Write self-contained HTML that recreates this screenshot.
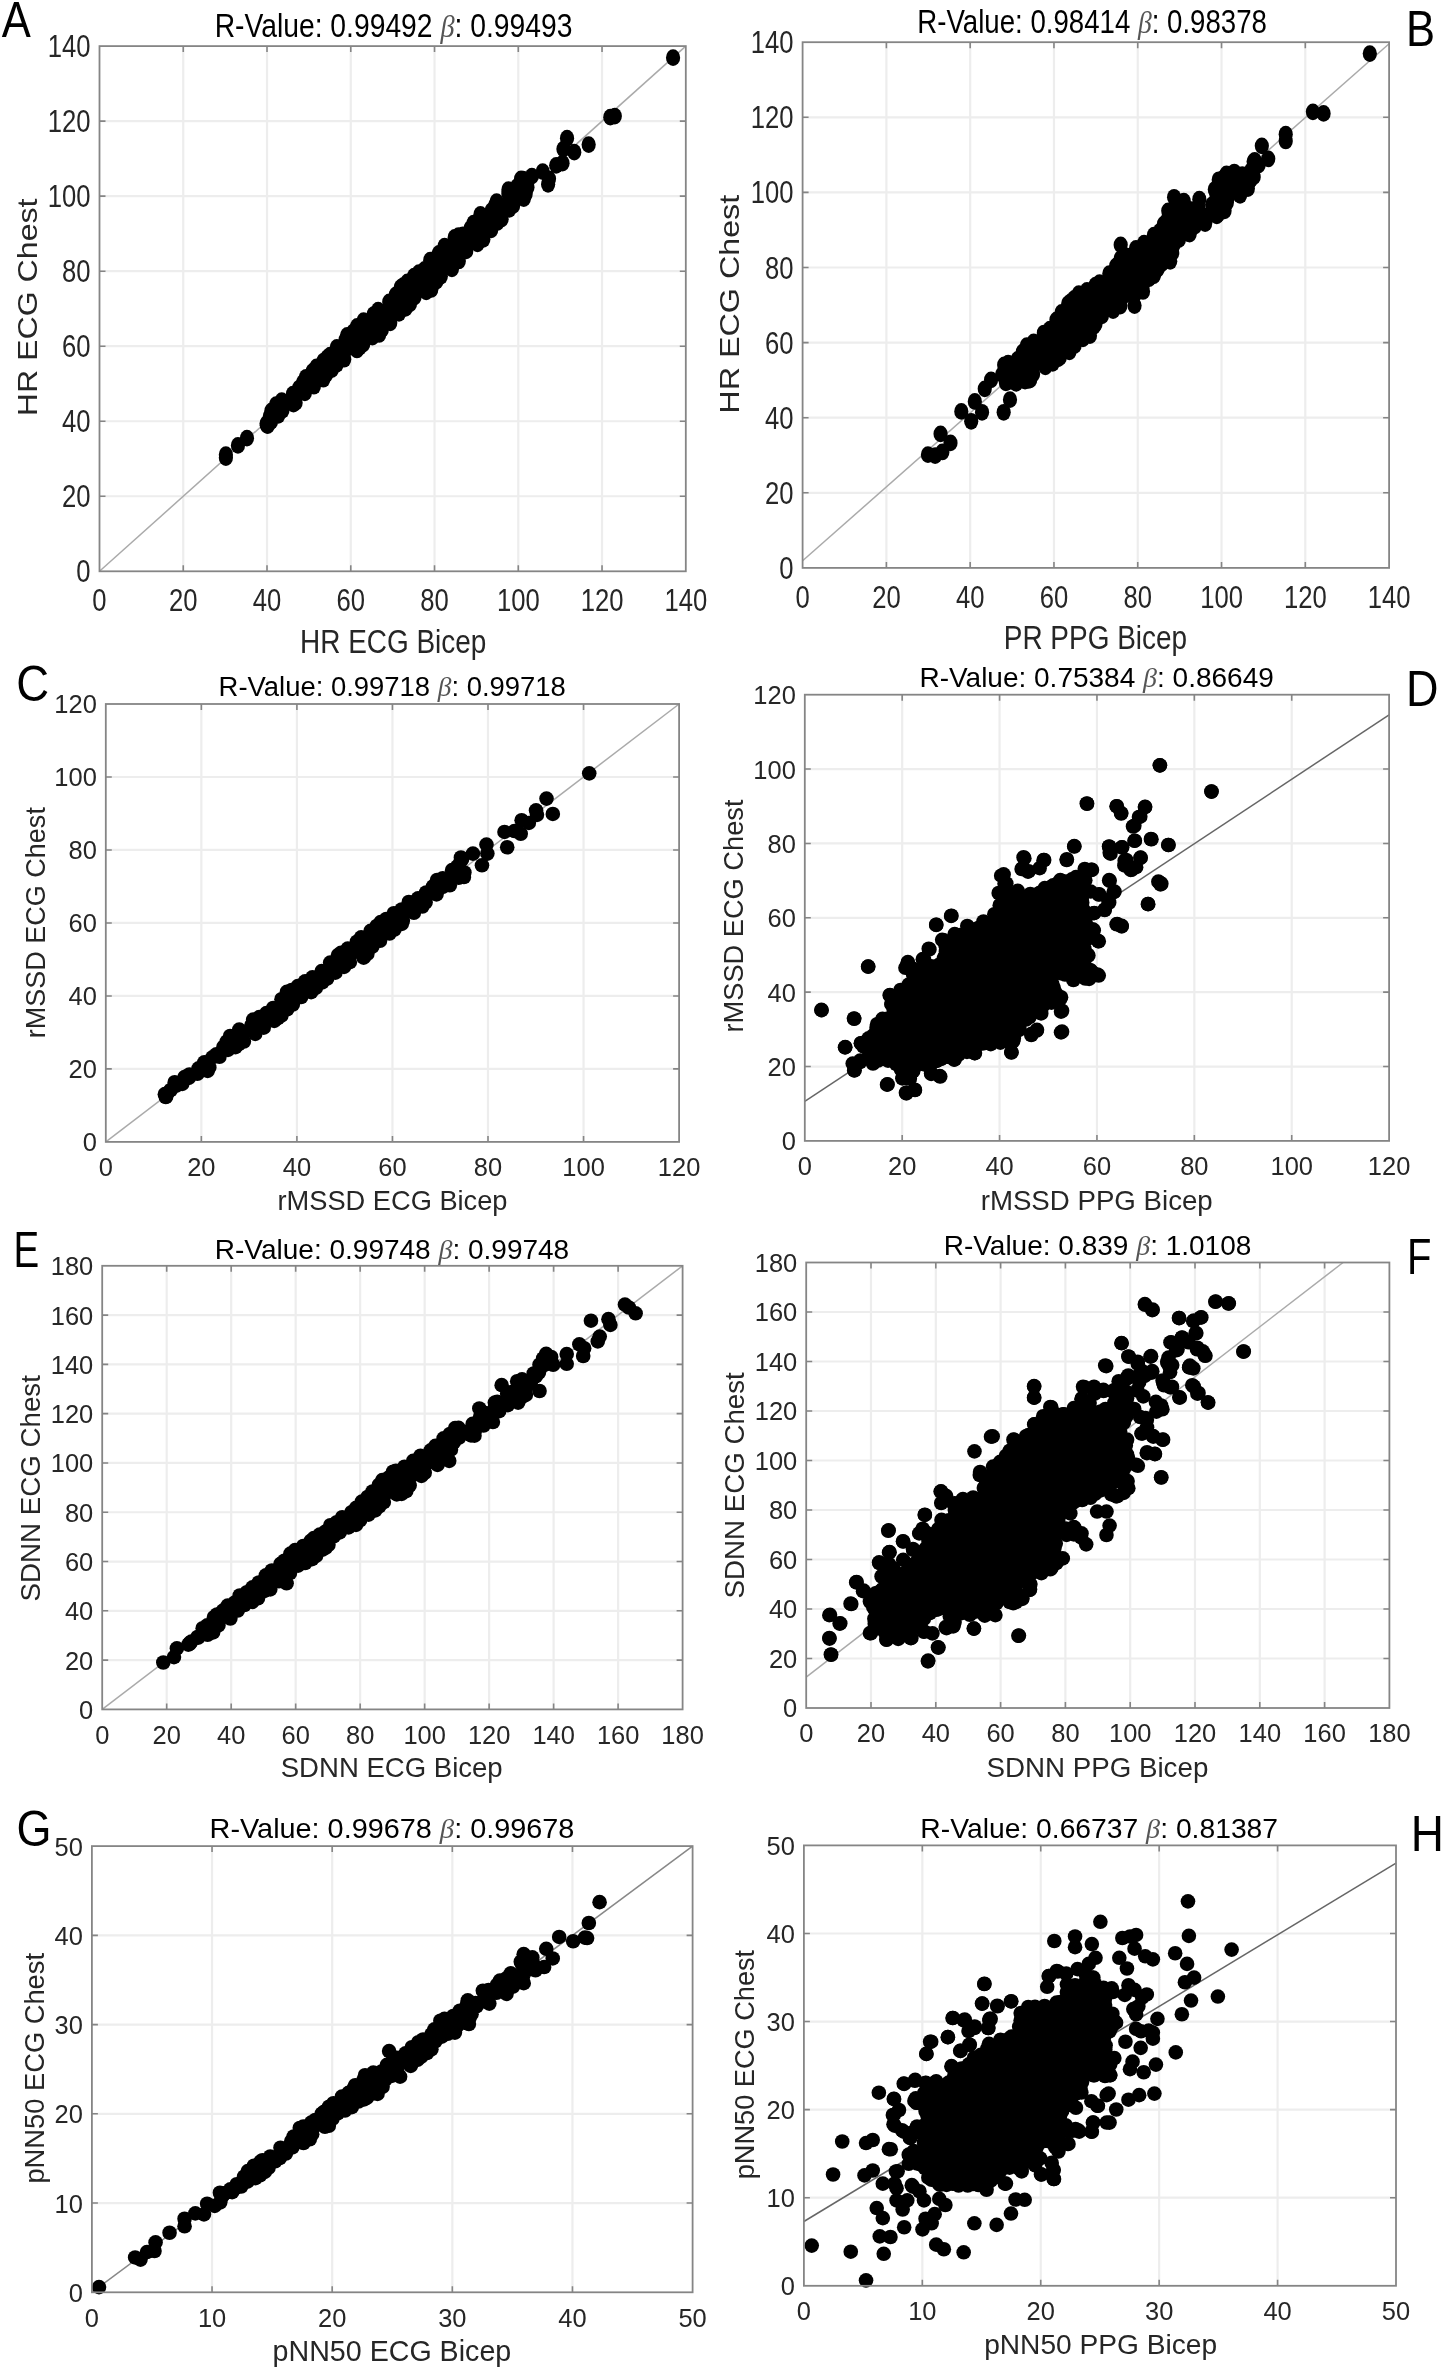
<!DOCTYPE html>
<html><head><meta charset="utf-8"><title>Scatter plots</title>
<style>html,body{margin:0;padding:0;background:#fff;width:1442px;height:2371px;overflow:hidden}
svg{display:block;font-family:"Liberation Sans",sans-serif;filter:grayscale(1)}</style></head>
<body><svg width="1442" height="2371" viewBox="0 0 1442 2371" font-family='Liberation Sans, sans-serif'><g stroke="#ededed" stroke-width="2.2"><line x1="183.26" y1="46.1" x2="183.26" y2="571.3"/><line x1="267.01" y1="46.1" x2="267.01" y2="571.3"/><line x1="350.77" y1="46.1" x2="350.77" y2="571.3"/><line x1="434.53" y1="46.1" x2="434.53" y2="571.3"/><line x1="518.29" y1="46.1" x2="518.29" y2="571.3"/><line x1="602.04" y1="46.1" x2="602.04" y2="571.3"/><line x1="99.5" y1="496.27" x2="685.8" y2="496.27"/><line x1="99.5" y1="421.24" x2="685.8" y2="421.24"/><line x1="99.5" y1="346.21" x2="685.8" y2="346.21"/><line x1="99.5" y1="271.19" x2="685.8" y2="271.19"/><line x1="99.5" y1="196.16" x2="685.8" y2="196.16"/><line x1="99.5" y1="121.13" x2="685.8" y2="121.13"/></g>
<line x1="99.5" y1="571.3" x2="685.8" y2="46.1" stroke="#aaaaaa" stroke-width="1.5"/>
<g fill="#000"><path d="M265.52 423.17L267.9 416.99L273.83 406.91L279.42 401.5L288.29 395.33L294.26 390.22L300.71 381.92L308.67 373.1L313.45 368.35L321.2 364.21L328.58 353.17L335.17 348.45L342.95 342.42L346.64 336.01L355.54 328.05L362.57 319.24L369.13 315.33L376.77 310.46L383.91 303.31L393.48 297.3L400.95 284.3L405.05 281.17L412.64 278.18L422.17 268.64L429.38 261.43L438.35 252.47L440.13 251.03L443.83 247.31L451.04 240.1L455.92 235.23L462.33 232.16L469.07 229.28L476.64 218L481.05 213.69L486.21 212.06L494.32 205.84L497.57 200.81L503.33 198.63L508.74 189.62L513.5 188.44L519.32 182.67L524.29 178.43L527.7 180.26L528.52 184.25L526.89 190.01L523.96 199.26L517.6 201.85L509.93 209.53L502.32 217.29L498.89 224.24L491.9 229.37L486.49 236.58L477.83 243.42L468.46 251.01L461.07 260.24L454.22 267.03L445.2 274.24L437.65 281.86L433.74 287.17L434.12 286.83L429.88 291.22L420.51 293.26L413.95 301.72L409.17 308.13L402.18 311.53L394.51 319.21L387.13 326.64L380.09 335.44L375.43 338.34L366.01 344.08L357.21 352.91L348.28 356.45L340.62 364.06L333.39 369.5L324.19 378.72L317.16 385.72L308.14 392.94L300.75 400.35L294.19 406.94L285.28 410.46L279.65 416.04L272.14 419.92L267.14 426.77L266.46 426.77L265.47 424.11Z"/><ellipse cx="225.87" cy="454.76" rx="7.1" ry="8.4"/><ellipse cx="225.87" cy="457.65" rx="7.1" ry="8.4"/><ellipse cx="237.95" cy="445.39" rx="7.1" ry="8.4"/><ellipse cx="246.96" cy="438.18" rx="7.1" ry="8.4"/><ellipse cx="267.34" cy="423.75" rx="7.1" ry="8.4"/><ellipse cx="673.06" cy="57.67" rx="7.1" ry="8.4"/><ellipse cx="610.31" cy="117.17" rx="7.1" ry="8.4"/><ellipse cx="614.82" cy="116.09" rx="7.1" ry="8.4"/><ellipse cx="588.67" cy="144.58" rx="7.1" ry="8.4"/><ellipse cx="574.25" cy="152.15" rx="7.1" ry="8.4"/><ellipse cx="567.04" cy="138.27" rx="7.1" ry="8.4"/><ellipse cx="563.43" cy="149.09" rx="7.1" ry="8.4"/><ellipse cx="556.22" cy="165.32" rx="7.1" ry="8.4"/><ellipse cx="562.53" cy="163.15" rx="7.1" ry="8.4"/><ellipse cx="542.69" cy="171.63" rx="7.1" ry="8.4"/><ellipse cx="548.1" cy="184.25" rx="7.1" ry="8.4"/><ellipse cx="549" cy="178.84" rx="7.1" ry="8.4"/><ellipse cx="531.88" cy="176.13" rx="7.1" ry="8.4"/><ellipse cx="521.06" cy="178.84" rx="7.1" ry="8.4"/><ellipse cx="508.43" cy="189.66" rx="7.1" ry="8.4"/><ellipse cx="523.76" cy="198.67" rx="7.1" ry="8.4"/><ellipse cx="267.22" cy="423.96" rx="7.1" ry="8.4"/><ellipse cx="269.85" cy="416.43" rx="7.1" ry="8.4"/><ellipse cx="271.43" cy="410.98" rx="7.1" ry="8.4"/><ellipse cx="276.06" cy="404.57" rx="7.1" ry="8.4"/><ellipse cx="281.73" cy="400.58" rx="7.1" ry="8.4"/><ellipse cx="292.85" cy="394.15" rx="7.1" ry="8.4"/><ellipse cx="299.22" cy="388.03" rx="7.1" ry="8.4"/><ellipse cx="303.15" cy="382.38" rx="7.1" ry="8.4"/><ellipse cx="305.99" cy="377.29" rx="7.1" ry="8.4"/><ellipse cx="312.58" cy="371.51" rx="7.1" ry="8.4"/><ellipse cx="316.46" cy="366.84" rx="7.1" ry="8.4"/><ellipse cx="323.54" cy="361.03" rx="7.1" ry="8.4"/><ellipse cx="327.23" cy="357.65" rx="7.1" ry="8.4"/><ellipse cx="330.07" cy="355.25" rx="7.1" ry="8.4"/><ellipse cx="336.84" cy="347.4" rx="7.1" ry="8.4"/><ellipse cx="345.54" cy="340.02" rx="7.1" ry="8.4"/><ellipse cx="347.16" cy="335.37" rx="7.1" ry="8.4"/><ellipse cx="353.39" cy="331.81" rx="7.1" ry="8.4"/><ellipse cx="357.05" cy="326.46" rx="7.1" ry="8.4"/><ellipse cx="363.6" cy="320.66" rx="7.1" ry="8.4"/><ellipse cx="373.63" cy="314.55" rx="7.1" ry="8.4"/><ellipse cx="378.13" cy="310.07" rx="7.1" ry="8.4"/><ellipse cx="389.24" cy="301.97" rx="7.1" ry="8.4"/><ellipse cx="395.78" cy="294.94" rx="7.1" ry="8.4"/><ellipse cx="400.75" cy="287.51" rx="7.1" ry="8.4"/><ellipse cx="403.06" cy="285.64" rx="7.1" ry="8.4"/><ellipse cx="407.37" cy="281.98" rx="7.1" ry="8.4"/><ellipse cx="414.05" cy="276.25" rx="7.1" ry="8.4"/><ellipse cx="418.83" cy="272.69" rx="7.1" ry="8.4"/><ellipse cx="424.63" cy="269.43" rx="7.1" ry="8.4"/><ellipse cx="430.24" cy="260.21" rx="7.1" ry="8.4"/><ellipse cx="436.57" cy="257.61" rx="7.1" ry="8.4"/><ellipse cx="438.84" cy="253.49" rx="7.1" ry="8.4"/><ellipse cx="443.56" cy="250.52" rx="7.1" ry="8.4"/><ellipse cx="444.59" cy="246.24" rx="7.1" ry="8.4"/><ellipse cx="454.68" cy="237.38" rx="7.1" ry="8.4"/><ellipse cx="458.45" cy="235.74" rx="7.1" ry="8.4"/><ellipse cx="462.89" cy="234.99" rx="7.1" ry="8.4"/><ellipse cx="470.59" cy="228.49" rx="7.1" ry="8.4"/><ellipse cx="473.51" cy="223.1" rx="7.1" ry="8.4"/><ellipse cx="480.77" cy="216.86" rx="7.1" ry="8.4"/><ellipse cx="480.46" cy="214.44" rx="7.1" ry="8.4"/><ellipse cx="491.6" cy="210.59" rx="7.1" ry="8.4"/><ellipse cx="495.48" cy="205.06" rx="7.1" ry="8.4"/><ellipse cx="496.62" cy="201.63" rx="7.1" ry="8.4"/><ellipse cx="508.37" cy="193.85" rx="7.1" ry="8.4"/><ellipse cx="510.19" cy="192.51" rx="7.1" ry="8.4"/><ellipse cx="517.03" cy="186.57" rx="7.1" ry="8.4"/><ellipse cx="524.15" cy="181.62" rx="7.1" ry="8.4"/><ellipse cx="523.08" cy="179.24" rx="7.1" ry="8.4"/><ellipse cx="526.84" cy="181.66" rx="7.1" ry="8.4"/><ellipse cx="527.45" cy="187.31" rx="7.1" ry="8.4"/><ellipse cx="525.66" cy="194.08" rx="7.1" ry="8.4"/><ellipse cx="521.7" cy="197.14" rx="7.1" ry="8.4"/><ellipse cx="513.13" cy="205.54" rx="7.1" ry="8.4"/><ellipse cx="509.31" cy="209.23" rx="7.1" ry="8.4"/><ellipse cx="501.6" cy="219.13" rx="7.1" ry="8.4"/><ellipse cx="497.3" cy="222.46" rx="7.1" ry="8.4"/><ellipse cx="491.21" cy="229.77" rx="7.1" ry="8.4"/><ellipse cx="483.36" cy="239.3" rx="7.1" ry="8.4"/><ellipse cx="477.52" cy="243.74" rx="7.1" ry="8.4"/><ellipse cx="466.21" cy="250.92" rx="7.1" ry="8.4"/><ellipse cx="458.81" cy="260.97" rx="7.1" ry="8.4"/><ellipse cx="451.92" cy="268.93" rx="7.1" ry="8.4"/><ellipse cx="440.83" cy="276.31" rx="7.1" ry="8.4"/><ellipse cx="436.28" cy="281.41" rx="7.1" ry="8.4"/><ellipse cx="431.21" cy="289.44" rx="7.1" ry="8.4"/><ellipse cx="431.38" cy="288.21" rx="7.1" ry="8.4"/><ellipse cx="426.23" cy="291.86" rx="7.1" ry="8.4"/><ellipse cx="414.5" cy="297.13" rx="7.1" ry="8.4"/><ellipse cx="410" cy="303.76" rx="7.1" ry="8.4"/><ellipse cx="405.5" cy="308.42" rx="7.1" ry="8.4"/><ellipse cx="399.02" cy="313.32" rx="7.1" ry="8.4"/><ellipse cx="390.26" cy="322.79" rx="7.1" ry="8.4"/><ellipse cx="381.86" cy="329.61" rx="7.1" ry="8.4"/><ellipse cx="379.15" cy="334.44" rx="7.1" ry="8.4"/><ellipse cx="372.47" cy="337.15" rx="7.1" ry="8.4"/><ellipse cx="363.23" cy="343.97" rx="7.1" ry="8.4"/><ellipse cx="359.59" cy="347.4" rx="7.1" ry="8.4"/><ellipse cx="356.96" cy="349.94" rx="7.1" ry="8.4"/><ellipse cx="344.2" cy="359.2" rx="7.1" ry="8.4"/><ellipse cx="336.77" cy="364.31" rx="7.1" ry="8.4"/><ellipse cx="331.81" cy="369.57" rx="7.1" ry="8.4"/><ellipse cx="326.05" cy="374.57" rx="7.1" ry="8.4"/><ellipse cx="323.35" cy="379.22" rx="7.1" ry="8.4"/><ellipse cx="313.9" cy="386.21" rx="7.1" ry="8.4"/><ellipse cx="304.86" cy="392.89" rx="7.1" ry="8.4"/><ellipse cx="295.6" cy="402.65" rx="7.1" ry="8.4"/><ellipse cx="293.49" cy="404.01" rx="7.1" ry="8.4"/><ellipse cx="282.47" cy="410.23" rx="7.1" ry="8.4"/><ellipse cx="278.34" cy="415.23" rx="7.1" ry="8.4"/><ellipse cx="271.03" cy="421.62" rx="7.1" ry="8.4"/><ellipse cx="266.84" cy="425.17" rx="7.1" ry="8.4"/><ellipse cx="267.75" cy="425.65" rx="7.1" ry="8.4"/><ellipse cx="266.59" cy="423.57" rx="7.1" ry="8.4"/></g>
<path d="M183.26 571.3v-6M183.26 46.1v6M267.01 571.3v-6M267.01 46.1v6M350.77 571.3v-6M350.77 46.1v6M434.53 571.3v-6M434.53 46.1v6M518.29 571.3v-6M518.29 46.1v6M602.04 571.3v-6M602.04 46.1v6M99.5 496.27h6M685.8 496.27h-6M99.5 421.24h6M685.8 421.24h-6M99.5 346.21h6M685.8 346.21h-6M99.5 271.19h6M685.8 271.19h-6M99.5 196.16h6M685.8 196.16h-6M99.5 121.13h6M685.8 121.13h-6" stroke="#858585" stroke-width="1.6" fill="none"/>
<rect x="99.5" y="46.1" width="586.3" height="525.2" fill="none" stroke="#858585" stroke-width="1.8"/>
<text transform="translate(99.5,611.3) scale(0.83,1)" text-anchor="middle" font-size="30.89" fill="#262626">0</text>
<text transform="translate(183.26,611.3) scale(0.83,1)" text-anchor="middle" font-size="30.89" fill="#262626">20</text>
<text transform="translate(267.01,611.3) scale(0.83,1)" text-anchor="middle" font-size="30.89" fill="#262626">40</text>
<text transform="translate(350.77,611.3) scale(0.83,1)" text-anchor="middle" font-size="30.89" fill="#262626">60</text>
<text transform="translate(434.53,611.3) scale(0.83,1)" text-anchor="middle" font-size="30.89" fill="#262626">80</text>
<text transform="translate(518.29,611.3) scale(0.83,1)" text-anchor="middle" font-size="30.89" fill="#262626">100</text>
<text transform="translate(602.04,611.3) scale(0.83,1)" text-anchor="middle" font-size="30.89" fill="#262626">120</text>
<text transform="translate(685.8,611.3) scale(0.83,1)" text-anchor="middle" font-size="30.89" fill="#262626">140</text>
<text transform="translate(90.5,582.36) scale(0.83,1)" text-anchor="end" font-size="30.89" fill="#262626">0</text>
<text transform="translate(90.5,507.33) scale(0.83,1)" text-anchor="end" font-size="30.89" fill="#262626">20</text>
<text transform="translate(90.5,432.3) scale(0.83,1)" text-anchor="end" font-size="30.89" fill="#262626">40</text>
<text transform="translate(90.5,357.27) scale(0.83,1)" text-anchor="end" font-size="30.89" fill="#262626">60</text>
<text transform="translate(90.5,282.24) scale(0.83,1)" text-anchor="end" font-size="30.89" fill="#262626">80</text>
<text transform="translate(90.5,207.22) scale(0.83,1)" text-anchor="end" font-size="30.89" fill="#262626">100</text>
<text transform="translate(90.5,132.19) scale(0.83,1)" text-anchor="end" font-size="30.89" fill="#262626">120</text>
<text transform="translate(90.5,57.16) scale(0.83,1)" text-anchor="end" font-size="30.89" fill="#262626">140</text>
<text transform="translate(393.5,37.4) scale(0.87,1)" text-anchor="middle" font-size="32.5" fill="#000">R-Value: 0.99492 <tspan font-family="Liberation Serif" font-style="italic" fill="#555">&#946;</tspan>: 0.99493</text>
<text transform="translate(393.2,652.6) scale(0.86,1)" text-anchor="middle" font-size="32.5" fill="#262626">HR ECG Bicep</text>
<text transform="translate(36.7,307.4) scale(0.86,1) rotate(-90)" text-anchor="middle" font-size="32.14" fill="#262626">HR ECG Chest</text>
<text transform="translate(1.7,36.6) scale(0.87,1)" text-anchor="start" font-size="50" fill="#000">A</text>
<g stroke="#ededed" stroke-width="2.2"><line x1="886.39" y1="42.2" x2="886.39" y2="567.9"/><line x1="970.17" y1="42.2" x2="970.17" y2="567.9"/><line x1="1053.96" y1="42.2" x2="1053.96" y2="567.9"/><line x1="1137.74" y1="42.2" x2="1137.74" y2="567.9"/><line x1="1221.53" y1="42.2" x2="1221.53" y2="567.9"/><line x1="1305.31" y1="42.2" x2="1305.31" y2="567.9"/><line x1="802.6" y1="492.8" x2="1389.1" y2="492.8"/><line x1="802.6" y1="417.7" x2="1389.1" y2="417.7"/><line x1="802.6" y1="342.6" x2="1389.1" y2="342.6"/><line x1="802.6" y1="267.5" x2="1389.1" y2="267.5"/><line x1="802.6" y1="192.4" x2="1389.1" y2="192.4"/><line x1="802.6" y1="117.3" x2="1389.1" y2="117.3"/></g>
<line x1="802.6" y1="560.77" x2="1389.1" y2="43.7" stroke="#aaaaaa" stroke-width="1.5"/>
<g fill="#000"><path d="M1001.45 366.85L1005.33 362.22L1013.7 359.09L1020.44 354.25L1025.82 345.28L1032.38 340.58L1039.84 334.93L1046.8 327.96L1054.67 323.64L1060.41 312.3L1065.82 306.89L1070.7 296.84L1078.47 294.26L1089.97 288.39L1097.54 280.84L1104.75 275.43L1112.17 267.99L1119.66 260.42L1122.51 255.45L1131.61 250.15L1141.32 244.32L1151.68 237.92L1161.95 225.55L1169.64 214.02L1175.53 207.84L1188.02 208.13L1196.95 206.18L1210.1 208.61L1214.93 189.44L1221.92 179.27L1228.09 174.78L1238.86 173.13L1252.17 170.41L1257.82 160.83L1255.29 161.01L1253.44 170.82L1249.95 181.28L1243.73 189.08L1231.26 191.78L1224.77 208.33L1218.61 214.24L1209.21 215.99L1196.47 224.6L1188.54 234.49L1176.61 244.58L1170.53 256.62L1161.07 267.88L1153.42 277.43L1145.99 284.8L1132.09 296.62L1134.7 297.31L1126.33 303.76L1117.94 310.49L1107.25 314.01L1098.58 320.83L1092.94 332.04L1086.71 339.78L1077.69 343.39L1070.33 352.56L1064.96 354.31L1059.51 361.57L1053.57 364.29L1046.36 366.09L1037.46 371.07L1030.42 383.47L1026.22 383.8L1018.48 382.03L1011.79 385.6L1003.99 383.47L1001.57 375.39Z"/><ellipse cx="927.95" cy="454.65" rx="7.1" ry="8.4"/><ellipse cx="935.16" cy="455.55" rx="7.1" ry="8.4"/><ellipse cx="942.37" cy="451.95" rx="7.1" ry="8.4"/><ellipse cx="940.57" cy="433.92" rx="7.1" ry="8.4"/><ellipse cx="950.49" cy="442.93" rx="7.1" ry="8.4"/><ellipse cx="961.31" cy="411.38" rx="7.1" ry="8.4"/><ellipse cx="971.22" cy="421.29" rx="7.1" ry="8.4"/><ellipse cx="974.83" cy="401.46" rx="7.1" ry="8.4"/><ellipse cx="982.04" cy="412.28" rx="7.1" ry="8.4"/><ellipse cx="984.75" cy="388.84" rx="7.1" ry="8.4"/><ellipse cx="991.06" cy="379.82" rx="7.1" ry="8.4"/><ellipse cx="1003.68" cy="412.28" rx="7.1" ry="8.4"/><ellipse cx="1009.99" cy="399.66" rx="7.1" ry="8.4"/><ellipse cx="1369.81" cy="53.59" rx="7.1" ry="8.4"/><ellipse cx="1312.91" cy="111.84" rx="7.1" ry="8.4"/><ellipse cx="1323.59" cy="113.4" rx="7.1" ry="8.4"/><ellipse cx="1285.73" cy="134.17" rx="7.1" ry="8.4"/><ellipse cx="1285.73" cy="140.97" rx="7.1" ry="8.4"/><ellipse cx="1261.84" cy="145.83" rx="7.1" ry="8.4"/><ellipse cx="1268.25" cy="158.83" rx="7.1" ry="8.4"/><ellipse cx="1254.66" cy="160.39" rx="7.1" ry="8.4"/><ellipse cx="1253.69" cy="176.89" rx="7.1" ry="8.4"/><ellipse cx="1247.86" cy="188.54" rx="7.1" ry="8.4"/><ellipse cx="1240.1" cy="195.34" rx="7.1" ry="8.4"/><ellipse cx="1234.27" cy="172.04" rx="7.1" ry="8.4"/><ellipse cx="1226.5" cy="173.98" rx="7.1" ry="8.4"/><ellipse cx="1218.74" cy="179.81" rx="7.1" ry="8.4"/><ellipse cx="1214.85" cy="189.51" rx="7.1" ry="8.4"/><ellipse cx="1224.56" cy="210.87" rx="7.1" ry="8.4"/><ellipse cx="1216.8" cy="215.73" rx="7.1" ry="8.4"/><ellipse cx="1199.32" cy="199.22" rx="7.1" ry="8.4"/><ellipse cx="1205.15" cy="223.5" rx="7.1" ry="8.4"/><ellipse cx="1189.61" cy="234.17" rx="7.1" ry="8.4"/><ellipse cx="1174.08" cy="197.28" rx="7.1" ry="8.4"/><ellipse cx="1183.79" cy="201.17" rx="7.1" ry="8.4"/><ellipse cx="1168.25" cy="210.87" rx="7.1" ry="8.4"/><ellipse cx="1120.68" cy="244.85" rx="7.1" ry="8.4"/><ellipse cx="1143.01" cy="291.46" rx="7.1" ry="8.4"/><ellipse cx="1170.19" cy="261.36" rx="7.1" ry="8.4"/><ellipse cx="1153.69" cy="275.92" rx="7.1" ry="8.4"/><ellipse cx="1004.17" cy="364.93" rx="7.1" ry="8.4"/><ellipse cx="1008.13" cy="363.08" rx="7.1" ry="8.4"/><ellipse cx="1017.64" cy="359.47" rx="7.1" ry="8.4"/><ellipse cx="1022.8" cy="351.88" rx="7.1" ry="8.4"/><ellipse cx="1026.79" cy="345.7" rx="7.1" ry="8.4"/><ellipse cx="1033.67" cy="341.89" rx="7.1" ry="8.4"/><ellipse cx="1043.84" cy="333.03" rx="7.1" ry="8.4"/><ellipse cx="1049.85" cy="329.13" rx="7.1" ry="8.4"/><ellipse cx="1056.44" cy="319.85" rx="7.1" ry="8.4"/><ellipse cx="1061.53" cy="315.42" rx="7.1" ry="8.4"/><ellipse cx="1061.63" cy="312.51" rx="7.1" ry="8.4"/><ellipse cx="1068.2" cy="303.72" rx="7.1" ry="8.4"/><ellipse cx="1070.65" cy="301.72" rx="7.1" ry="8.4"/><ellipse cx="1074.21" cy="298.5" rx="7.1" ry="8.4"/><ellipse cx="1078.81" cy="293.7" rx="7.1" ry="8.4"/><ellipse cx="1086.97" cy="290.5" rx="7.1" ry="8.4"/><ellipse cx="1095.52" cy="285.08" rx="7.1" ry="8.4"/><ellipse cx="1099.55" cy="282.62" rx="7.1" ry="8.4"/><ellipse cx="1109.31" cy="273.72" rx="7.1" ry="8.4"/><ellipse cx="1116.18" cy="265.91" rx="7.1" ry="8.4"/><ellipse cx="1120.77" cy="258.45" rx="7.1" ry="8.4"/><ellipse cx="1126.28" cy="255.89" rx="7.1" ry="8.4"/><ellipse cx="1136" cy="248.44" rx="7.1" ry="8.4"/><ellipse cx="1144.07" cy="243.21" rx="7.1" ry="8.4"/><ellipse cx="1153.93" cy="235.11" rx="7.1" ry="8.4"/><ellipse cx="1160" cy="231.2" rx="7.1" ry="8.4"/><ellipse cx="1164" cy="224.02" rx="7.1" ry="8.4"/><ellipse cx="1168.39" cy="217.89" rx="7.1" ry="8.4"/><ellipse cx="1169.65" cy="214.63" rx="7.1" ry="8.4"/><ellipse cx="1176.2" cy="210.9" rx="7.1" ry="8.4"/><ellipse cx="1184.27" cy="209.04" rx="7.1" ry="8.4"/><ellipse cx="1191.21" cy="209.6" rx="7.1" ry="8.4"/><ellipse cx="1198.31" cy="206.72" rx="7.1" ry="8.4"/><ellipse cx="1212.15" cy="204.61" rx="7.1" ry="8.4"/><ellipse cx="1216.27" cy="193.62" rx="7.1" ry="8.4"/><ellipse cx="1218.14" cy="188.32" rx="7.1" ry="8.4"/><ellipse cx="1222.37" cy="183.12" rx="7.1" ry="8.4"/><ellipse cx="1223.77" cy="177.68" rx="7.1" ry="8.4"/><ellipse cx="1230.56" cy="175.2" rx="7.1" ry="8.4"/><ellipse cx="1242.25" cy="174.61" rx="7.1" ry="8.4"/><ellipse cx="1258.57" cy="165.13" rx="7.1" ry="8.4"/><ellipse cx="1254.53" cy="162.77" rx="7.1" ry="8.4"/><ellipse cx="1253.64" cy="161.62" rx="7.1" ry="8.4"/><ellipse cx="1251.06" cy="170.74" rx="7.1" ry="8.4"/><ellipse cx="1250.6" cy="179.45" rx="7.1" ry="8.4"/><ellipse cx="1249.82" cy="180.72" rx="7.1" ry="8.4"/><ellipse cx="1244.57" cy="183.97" rx="7.1" ry="8.4"/><ellipse cx="1238.41" cy="189.54" rx="7.1" ry="8.4"/><ellipse cx="1228.31" cy="196.59" rx="7.1" ry="8.4"/><ellipse cx="1226.87" cy="202.52" rx="7.1" ry="8.4"/><ellipse cx="1222.41" cy="209.87" rx="7.1" ry="8.4"/><ellipse cx="1218.4" cy="214.09" rx="7.1" ry="8.4"/><ellipse cx="1206.91" cy="217.6" rx="7.1" ry="8.4"/><ellipse cx="1200.28" cy="220.09" rx="7.1" ry="8.4"/><ellipse cx="1195.02" cy="226.1" rx="7.1" ry="8.4"/><ellipse cx="1189.62" cy="232.34" rx="7.1" ry="8.4"/><ellipse cx="1186.96" cy="233.21" rx="7.1" ry="8.4"/><ellipse cx="1178.89" cy="239.58" rx="7.1" ry="8.4"/><ellipse cx="1173.47" cy="245.14" rx="7.1" ry="8.4"/><ellipse cx="1172.21" cy="252.86" rx="7.1" ry="8.4"/><ellipse cx="1167.95" cy="256.2" rx="7.1" ry="8.4"/><ellipse cx="1161.61" cy="263.78" rx="7.1" ry="8.4"/><ellipse cx="1157.64" cy="269.04" rx="7.1" ry="8.4"/><ellipse cx="1155.41" cy="271.48" rx="7.1" ry="8.4"/><ellipse cx="1148.85" cy="278.69" rx="7.1" ry="8.4"/><ellipse cx="1142.5" cy="286.37" rx="7.1" ry="8.4"/><ellipse cx="1137.58" cy="291.59" rx="7.1" ry="8.4"/><ellipse cx="1134.54" cy="305.59" rx="7.1" ry="8.4"/><ellipse cx="1133.9" cy="296.15" rx="7.1" ry="8.4"/><ellipse cx="1120.33" cy="306" rx="7.1" ry="8.4"/><ellipse cx="1113.1" cy="310.49" rx="7.1" ry="8.4"/><ellipse cx="1101.92" cy="315.85" rx="7.1" ry="8.4"/><ellipse cx="1095.47" cy="323.97" rx="7.1" ry="8.4"/><ellipse cx="1093.67" cy="326.64" rx="7.1" ry="8.4"/><ellipse cx="1089.95" cy="335.67" rx="7.1" ry="8.4"/><ellipse cx="1082.9" cy="338.88" rx="7.1" ry="8.4"/><ellipse cx="1074.6" cy="345.58" rx="7.1" ry="8.4"/><ellipse cx="1069.43" cy="351.73" rx="7.1" ry="8.4"/><ellipse cx="1059.72" cy="357.63" rx="7.1" ry="8.4"/><ellipse cx="1057.99" cy="358.93" rx="7.1" ry="8.4"/><ellipse cx="1052.7" cy="363.36" rx="7.1" ry="8.4"/><ellipse cx="1045.4" cy="366.78" rx="7.1" ry="8.4"/><ellipse cx="1033.08" cy="374.11" rx="7.1" ry="8.4"/><ellipse cx="1030.2" cy="379.76" rx="7.1" ry="8.4"/><ellipse cx="1028.73" cy="380.32" rx="7.1" ry="8.4"/><ellipse cx="1025.04" cy="381.1" rx="7.1" ry="8.4"/><ellipse cx="1016.13" cy="383.39" rx="7.1" ry="8.4"/><ellipse cx="1008.83" cy="381.58" rx="7.1" ry="8.4"/><ellipse cx="1005.91" cy="382.82" rx="7.1" ry="8.4"/><ellipse cx="1002.1" cy="374.58" rx="7.1" ry="8.4"/></g>
<path d="M886.39 567.9v-6M886.39 42.2v6M970.17 567.9v-6M970.17 42.2v6M1053.96 567.9v-6M1053.96 42.2v6M1137.74 567.9v-6M1137.74 42.2v6M1221.53 567.9v-6M1221.53 42.2v6M1305.31 567.9v-6M1305.31 42.2v6M802.6 492.8h6M1389.1 492.8h-6M802.6 417.7h6M1389.1 417.7h-6M802.6 342.6h6M1389.1 342.6h-6M802.6 267.5h6M1389.1 267.5h-6M802.6 192.4h6M1389.1 192.4h-6M802.6 117.3h6M1389.1 117.3h-6" stroke="#858585" stroke-width="1.6" fill="none"/>
<rect x="802.6" y="42.2" width="586.5" height="525.7" fill="none" stroke="#858585" stroke-width="1.8"/>
<text transform="translate(802.6,607.7) scale(0.83,1)" text-anchor="middle" font-size="30.89" fill="#262626">0</text>
<text transform="translate(886.39,607.7) scale(0.83,1)" text-anchor="middle" font-size="30.89" fill="#262626">20</text>
<text transform="translate(970.17,607.7) scale(0.83,1)" text-anchor="middle" font-size="30.89" fill="#262626">40</text>
<text transform="translate(1053.96,607.7) scale(0.83,1)" text-anchor="middle" font-size="30.89" fill="#262626">60</text>
<text transform="translate(1137.74,607.7) scale(0.83,1)" text-anchor="middle" font-size="30.89" fill="#262626">80</text>
<text transform="translate(1221.53,607.7) scale(0.83,1)" text-anchor="middle" font-size="30.89" fill="#262626">100</text>
<text transform="translate(1305.31,607.7) scale(0.83,1)" text-anchor="middle" font-size="30.89" fill="#262626">120</text>
<text transform="translate(1389.1,607.7) scale(0.83,1)" text-anchor="middle" font-size="30.89" fill="#262626">140</text>
<text transform="translate(793.6,578.96) scale(0.83,1)" text-anchor="end" font-size="30.89" fill="#262626">0</text>
<text transform="translate(793.6,503.86) scale(0.83,1)" text-anchor="end" font-size="30.89" fill="#262626">20</text>
<text transform="translate(793.6,428.76) scale(0.83,1)" text-anchor="end" font-size="30.89" fill="#262626">40</text>
<text transform="translate(793.6,353.66) scale(0.83,1)" text-anchor="end" font-size="30.89" fill="#262626">60</text>
<text transform="translate(793.6,278.56) scale(0.83,1)" text-anchor="end" font-size="30.89" fill="#262626">80</text>
<text transform="translate(793.6,203.46) scale(0.83,1)" text-anchor="end" font-size="30.89" fill="#262626">100</text>
<text transform="translate(793.6,128.36) scale(0.83,1)" text-anchor="end" font-size="30.89" fill="#262626">120</text>
<text transform="translate(793.6,53.26) scale(0.83,1)" text-anchor="end" font-size="30.89" fill="#262626">140</text>
<text transform="translate(1092.1,33) scale(0.85,1)" text-anchor="middle" font-size="32.5" fill="#000">R-Value: 0.98414 <tspan font-family="Liberation Serif" font-style="italic" fill="#555">&#946;</tspan>: 0.98378</text>
<text transform="translate(1095.4,648.7) scale(0.86,1)" text-anchor="middle" font-size="32.5" fill="#262626">PR PPG Bicep</text>
<text transform="translate(739.3,304.2) scale(0.86,1) rotate(-90)" text-anchor="middle" font-size="32.3" fill="#262626">HR ECG Chest</text>
<text transform="translate(1406,46) scale(0.87,1)" text-anchor="start" font-size="50" fill="#000">B</text>
<g stroke="#ededed" stroke-width="2.2"><line x1="201.35" y1="704" x2="201.35" y2="1141.9"/><line x1="296.9" y1="704" x2="296.9" y2="1141.9"/><line x1="392.45" y1="704" x2="392.45" y2="1141.9"/><line x1="488" y1="704" x2="488" y2="1141.9"/><line x1="583.55" y1="704" x2="583.55" y2="1141.9"/><line x1="105.8" y1="1068.92" x2="679.1" y2="1068.92"/><line x1="105.8" y1="995.93" x2="679.1" y2="995.93"/><line x1="105.8" y1="922.95" x2="679.1" y2="922.95"/><line x1="105.8" y1="849.97" x2="679.1" y2="849.97"/><line x1="105.8" y1="776.98" x2="679.1" y2="776.98"/></g>
<line x1="105.8" y1="1141.9" x2="679.1" y2="704" stroke="#aaaaaa" stroke-width="1.5"/>
<g fill="#000"><path d="M162.8 1093.34L169.33 1090.62L174.73 1081.6L181.02 1078.7L186.43 1075.1L194.36 1070.98L201.57 1061.97L208.47 1058.61L221.75 1047.21L228.99 1036.36L236.7 1030.13L246.19 1028.06L253.71 1018.82L264.3 1013.58L271.89 1006.07L279.31 1000.46L288.16 989.8L296.35 984.98L307.32 979.49L314.97 973.78L324.39 966.21L331.6 957.19L339.87 950.58L350.85 945.06L358.18 937.76L365.2 934.3L374.71 926.7L383.71 917.7L390.14 912.84L399.36 909.12L406.45 902.56L415.76 900.58L421.95 892.75L428.95 887.54L436.01 880.46L446.67 873.37L456.02 865.88L462.49 859.2L462.37 858.2L465.02 866.94L465.42 875.08L459.58 877.08L454.09 882.55L445.01 888L437.6 895.38L430.65 900.58L423.37 906.03L414.62 913.06L406.62 917.33L399.23 929.46L390.99 934.22L383.78 939.63L374.24 945.44L363.8 957.76L355.73 959.04L345.65 965.06L338.03 972.63L331.29 979.44L324.19 982.96L313.31 992.02L304.36 997.39L295.28 1004.64L284.09 1012.16L275.09 1022.96L266.58 1027.98L259.83 1033.12L248.72 1036.89L241.25 1044.27L230.43 1049.68L222.82 1057.2L213.8 1064.41L207.18 1071.19L200.33 1072.79L192.95 1078.28L183.74 1082.01L177.8 1087.8L170.81 1093.03L165.65 1097.61L163.56 1095.91Z"/><circle cx="589.24" cy="773.36" r="7.3"/><circle cx="546.51" cy="798.6" r="7.3"/><circle cx="552.82" cy="813.93" r="7.3"/><circle cx="536.05" cy="810.32" r="7.3"/><circle cx="536.95" cy="814.83" r="7.3"/><circle cx="521.63" cy="820.24" r="7.3"/><circle cx="528.84" cy="822.94" r="7.3"/><circle cx="520.72" cy="833.76" r="7.3"/><circle cx="514.41" cy="831.06" r="7.3"/><circle cx="504.5" cy="831.96" r="7.3"/><circle cx="507.2" cy="847.28" r="7.3"/><circle cx="486.47" cy="844.58" r="7.3"/><circle cx="487.37" cy="853.6" r="7.3"/><circle cx="472.94" cy="853.6" r="7.3"/><circle cx="481.96" cy="865.32" r="7.3"/><circle cx="462.12" cy="859" r="7.3"/><circle cx="463.93" cy="877.04" r="7.3"/><circle cx="164.87" cy="1094.13" r="7.3"/><circle cx="170.65" cy="1090" r="7.3"/><circle cx="174.72" cy="1082.24" r="7.3"/><circle cx="184.54" cy="1077.14" r="7.3"/><circle cx="189.38" cy="1074.45" r="7.3"/><circle cx="198.62" cy="1068.37" r="7.3"/><circle cx="204.29" cy="1062.32" r="7.3"/><circle cx="212.41" cy="1057.33" r="7.3"/><circle cx="216.36" cy="1054.38" r="7.3"/><circle cx="223.44" cy="1046.99" r="7.3"/><circle cx="226.68" cy="1041.58" r="7.3"/><circle cx="230.15" cy="1035.98" r="7.3"/><circle cx="239.23" cy="1029.6" r="7.3"/><circle cx="251.46" cy="1025.04" r="7.3"/><circle cx="253.2" cy="1019.55" r="7.3"/><circle cx="259.33" cy="1017.16" r="7.3"/><circle cx="266.44" cy="1013.08" r="7.3"/><circle cx="273.18" cy="1008.01" r="7.3"/><circle cx="281.48" cy="999.19" r="7.3"/><circle cx="286.89" cy="991.91" r="7.3"/><circle cx="291.66" cy="989.99" r="7.3"/><circle cx="297.82" cy="986.04" r="7.3"/><circle cx="305.08" cy="981.41" r="7.3"/><circle cx="312.41" cy="977.34" r="7.3"/><circle cx="321.7" cy="971.07" r="7.3"/><circle cx="330.17" cy="962.54" r="7.3"/><circle cx="338.01" cy="955.12" r="7.3"/><circle cx="340.93" cy="952.89" r="7.3"/><circle cx="347.74" cy="948.61" r="7.3"/><circle cx="356.85" cy="941.77" r="7.3"/><circle cx="361.14" cy="937.38" r="7.3"/><circle cx="370.64" cy="930.92" r="7.3"/><circle cx="376.69" cy="926.01" r="7.3"/><circle cx="380.65" cy="922.14" r="7.3"/><circle cx="386.29" cy="918.97" r="7.3"/><circle cx="393.87" cy="913.19" r="7.3"/><circle cx="401.64" cy="909.44" r="7.3"/><circle cx="408.82" cy="902" r="7.3"/><circle cx="418.03" cy="898.39" r="7.3"/><circle cx="426.14" cy="892.47" r="7.3"/><circle cx="433.05" cy="886.31" r="7.3"/><circle cx="437.12" cy="879.96" r="7.3"/><circle cx="442.73" cy="878.21" r="7.3"/><circle cx="452.09" cy="870.16" r="7.3"/><circle cx="457.11" cy="866.57" r="7.3"/><circle cx="460.74" cy="860.86" r="7.3"/><circle cx="460.96" cy="857.5" r="7.3"/><circle cx="464.38" cy="872.49" r="7.3"/><circle cx="463.42" cy="874.09" r="7.3"/><circle cx="458.61" cy="877.79" r="7.3"/><circle cx="449.84" cy="885.23" r="7.3"/><circle cx="442.85" cy="886.88" r="7.3"/><circle cx="436.51" cy="894.45" r="7.3"/><circle cx="425.58" cy="902.44" r="7.3"/><circle cx="422.36" cy="906.51" r="7.3"/><circle cx="413.89" cy="912.74" r="7.3"/><circle cx="402.84" cy="920.76" r="7.3"/><circle cx="401.71" cy="923.95" r="7.3"/><circle cx="394.41" cy="929.55" r="7.3"/><circle cx="389.5" cy="933.57" r="7.3"/><circle cx="379.99" cy="940.73" r="7.3"/><circle cx="372.4" cy="946.61" r="7.3"/><circle cx="367.38" cy="953.74" r="7.3"/><circle cx="363.63" cy="957.68" r="7.3"/><circle cx="349.83" cy="962.18" r="7.3"/><circle cx="343.99" cy="966.95" r="7.3"/><circle cx="335.4" cy="972.71" r="7.3"/><circle cx="327.19" cy="978.57" r="7.3"/><circle cx="322.3" cy="982.4" r="7.3"/><circle cx="315.86" cy="987.76" r="7.3"/><circle cx="311.12" cy="992.21" r="7.3"/><circle cx="301.11" cy="997.02" r="7.3"/><circle cx="292.79" cy="1004.57" r="7.3"/><circle cx="287.2" cy="1009.29" r="7.3"/><circle cx="281.39" cy="1015.49" r="7.3"/><circle cx="277.88" cy="1018.15" r="7.3"/><circle cx="274.25" cy="1020.83" r="7.3"/><circle cx="263.72" cy="1027.69" r="7.3"/><circle cx="255.26" cy="1033.85" r="7.3"/><circle cx="243.88" cy="1041.55" r="7.3"/><circle cx="238.78" cy="1044" r="7.3"/><circle cx="235.46" cy="1047.13" r="7.3"/><circle cx="227.97" cy="1049.91" r="7.3"/><circle cx="219.45" cy="1056.81" r="7.3"/><circle cx="209.28" cy="1067.4" r="7.3"/><circle cx="207.61" cy="1070.85" r="7.3"/><circle cx="197.38" cy="1073.74" r="7.3"/><circle cx="188.75" cy="1077.93" r="7.3"/><circle cx="182.24" cy="1083.86" r="7.3"/><circle cx="176.37" cy="1085.7" r="7.3"/><circle cx="167.31" cy="1093.27" r="7.3"/><circle cx="166.2" cy="1096.38" r="7.3"/><circle cx="165.77" cy="1096.97" r="7.3"/></g>
<path d="M201.35 1141.9v-6M201.35 704v6M296.9 1141.9v-6M296.9 704v6M392.45 1141.9v-6M392.45 704v6M488 1141.9v-6M488 704v6M583.55 1141.9v-6M583.55 704v6M105.8 1068.92h6M679.1 1068.92h-6M105.8 995.93h6M679.1 995.93h-6M105.8 922.95h6M679.1 922.95h-6M105.8 849.97h6M679.1 849.97h-6M105.8 776.98h6M679.1 776.98h-6" stroke="#858585" stroke-width="1.6" fill="none"/>
<rect x="105.8" y="704" width="573.3" height="437.9" fill="none" stroke="#858585" stroke-width="1.8"/>
<text transform="translate(105.8,1175.7) scale(0.96,1)" text-anchor="middle" font-size="26.52" fill="#262626">0</text>
<text transform="translate(201.35,1175.7) scale(0.96,1)" text-anchor="middle" font-size="26.52" fill="#262626">20</text>
<text transform="translate(296.9,1175.7) scale(0.96,1)" text-anchor="middle" font-size="26.52" fill="#262626">40</text>
<text transform="translate(392.45,1175.7) scale(0.96,1)" text-anchor="middle" font-size="26.52" fill="#262626">60</text>
<text transform="translate(488,1175.7) scale(0.96,1)" text-anchor="middle" font-size="26.52" fill="#262626">80</text>
<text transform="translate(583.55,1175.7) scale(0.96,1)" text-anchor="middle" font-size="26.52" fill="#262626">100</text>
<text transform="translate(679.1,1175.7) scale(0.96,1)" text-anchor="middle" font-size="26.52" fill="#262626">120</text>
<text transform="translate(96.8,1151.39) scale(0.96,1)" text-anchor="end" font-size="26.52" fill="#262626">0</text>
<text transform="translate(96.8,1078.41) scale(0.96,1)" text-anchor="end" font-size="26.52" fill="#262626">20</text>
<text transform="translate(96.8,1005.43) scale(0.96,1)" text-anchor="end" font-size="26.52" fill="#262626">40</text>
<text transform="translate(96.8,932.44) scale(0.96,1)" text-anchor="end" font-size="26.52" fill="#262626">60</text>
<text transform="translate(96.8,859.46) scale(0.96,1)" text-anchor="end" font-size="26.52" fill="#262626">80</text>
<text transform="translate(96.8,786.48) scale(0.96,1)" text-anchor="end" font-size="26.52" fill="#262626">100</text>
<text transform="translate(96.8,713.49) scale(0.96,1)" text-anchor="end" font-size="26.52" fill="#262626">120</text>
<text transform="translate(392.2,696.3) scale(0.98,1)" text-anchor="middle" font-size="28" fill="#000">R-Value: 0.99718 <tspan font-family="Liberation Serif" font-style="italic" fill="#555">&#946;</tspan>: 0.99718</text>
<text transform="translate(392.5,1210.2)" text-anchor="middle" font-size="27.24" fill="#262626">rMSSD ECG Bicep</text>
<text transform="translate(44.9,922.7) rotate(-90)" text-anchor="middle" font-size="27.02" fill="#262626">rMSSD ECG Chest</text>
<text transform="translate(16.3,701.2) scale(0.91,1)" text-anchor="start" font-size="50" fill="#000">C</text>
<g stroke="#ededed" stroke-width="2.2"><line x1="902.18" y1="694.7" x2="902.18" y2="1140.9"/><line x1="999.57" y1="694.7" x2="999.57" y2="1140.9"/><line x1="1096.95" y1="694.7" x2="1096.95" y2="1140.9"/><line x1="1194.33" y1="694.7" x2="1194.33" y2="1140.9"/><line x1="1291.72" y1="694.7" x2="1291.72" y2="1140.9"/><line x1="804.8" y1="1066.53" x2="1389.1" y2="1066.53"/><line x1="804.8" y1="992.17" x2="1389.1" y2="992.17"/><line x1="804.8" y1="917.8" x2="1389.1" y2="917.8"/><line x1="804.8" y1="843.43" x2="1389.1" y2="843.43"/><line x1="804.8" y1="769.07" x2="1389.1" y2="769.07"/></g>
<line x1="804.8" y1="1101.49" x2="1389.1" y2="714.78" stroke="#666666" stroke-width="1.5"/>
<g fill="#000"><path d="M877.09 1040.82L886.12 1028.78L898.05 1010.89L906.99 998.96L918.75 981.29L930.36 969.73L942.48 957.59L951.43 945.66L962.69 934.35L973.53 928.98L985.88 925.82L999.17 915.8L1004.91 904.12L1014.28 899.41L1027.05 902.2L1043 889.76L1054.28 884.15L1068.8 878.34L1078.72 875.54L1084.04 878.23L1080.92 895.06L1083.99 907.85L1086.9 924.57L1081.39 946.78L1070.75 957.16L1059.49 962.71L1046.2 969.74L1039.26 986.64L1039.36 1001.15L1031.11 1014.69L1022.34 1023.42L1013.15 1035.65L1009.03 1043.12L995.45 1042.78L976.89 1045.87L958.57 1051.97L943.37 1058.05L931.84 1063.86L916.19 1067.17L906.39 1078.55L897.34 1067.7L884.85 1058.34L873.03 1052.44L868.96 1050.84Z"/><path d="M863.25 1044.57L874.99 1030.76L883.66 1022.09L893.93 1012.91L891.99 997.08L900.86 993.83L911.93 985.96L911.69 964.9L916.05 974.4L923.77 963.42L941.53 964.24L945.85 941.65L956.83 936.09L969.03 929.09L984.81 923.85L999.04 919.34L1003.43 907.59L1011.49 899.65L1018.16 895.18L1029.16 898.77L1047.24 890.86L1051.69 884.12L1060.69 880.75L1060.65 964.31L1051.46 972.41L1053.37 989.81L1060.71 998.06L1058.57 1002.6L1039.43 1009.43L1025.96 1017.14L1015.65 1027.7L1013.94 1040.15L1009.97 1041.54L989.82 1041.6L974.67 1049.03L953.54 1056.07L940.91 1057.88L926.14 1063.4L914.16 1067.62L910.86 1074.63L904.15 1076.14L900.81 1069.05L892.18 1053.06L878.6 1056.48L873.52 1061.34L870.13 1058.18L868.54 1047.79Z"/><path d="M1004.35 889.39L1010.42 898.61L1021.22 894.8L1027.53 893.19L1036.28 893.21L1045.3 892.31L1054.53 892.3L1062.93 890.51L1074.5 893.04L1083.89 896.74L1080.59 889.26L1076.76 903.26L1080.59 919.07L1086.07 931.88L1089.43 940.46L1082.21 953.13L1086.1 968.04L1096.71 975.75L1002.99 976.88Z"/><circle cx="1159.85" cy="765.35" r="7.3"/><circle cx="1211.44" cy="791.59" r="7.3"/><circle cx="1086.8" cy="803.52" r="7.3"/><circle cx="1116.61" cy="806.2" r="7.3"/><circle cx="1121.09" cy="813.06" r="7.3"/><circle cx="1144.94" cy="807.09" r="7.3"/><circle cx="1138.98" cy="816.93" r="7.3"/><circle cx="1133.02" cy="826.48" r="7.3"/><circle cx="1134.51" cy="840.79" r="7.3"/><circle cx="1150.91" cy="839" r="7.3"/><circle cx="1168.2" cy="844.96" r="7.3"/><circle cx="1074.27" cy="846.16" r="7.3"/><circle cx="1109.16" cy="846.75" r="7.3"/><circle cx="1109.76" cy="852.72" r="7.3"/><circle cx="1121.68" cy="847.35" r="7.3"/><circle cx="1140.47" cy="857.79" r="7.3"/><circle cx="1124.67" cy="860.77" r="7.3"/><circle cx="1131.52" cy="869.72" r="7.3"/><circle cx="1127.05" cy="865.24" r="7.3"/><circle cx="1109.16" cy="880.15" r="7.3"/><circle cx="1158.36" cy="881.64" r="7.3"/><circle cx="1161.34" cy="883.73" r="7.3"/><circle cx="1147.93" cy="904.01" r="7.3"/><circle cx="1098.72" cy="894.47" r="7.3"/><circle cx="1113.63" cy="892.08" r="7.3"/><circle cx="1109.16" cy="902.52" r="7.3"/><circle cx="1104.69" cy="909.97" r="7.3"/><circle cx="1094.25" cy="912.95" r="7.3"/><circle cx="1116.61" cy="924.29" r="7.3"/><circle cx="1121.68" cy="926.37" r="7.3"/><circle cx="1023.58" cy="857.19" r="7.3"/><circle cx="1043.56" cy="860.17" r="7.3"/><circle cx="1066.82" cy="859.28" r="7.3"/><circle cx="1022.68" cy="868.22" r="7.3"/><circle cx="1028.65" cy="871.21" r="7.3"/><circle cx="1001.21" cy="875.68" r="7.3"/><circle cx="1004.79" cy="884.03" r="7.3"/><circle cx="1091.27" cy="869.72" r="7.3"/><circle cx="1085.3" cy="880.15" r="7.3"/><circle cx="1098.72" cy="941.28" r="7.3"/><circle cx="1092.76" cy="929.35" r="7.3"/><circle cx="1087.69" cy="954.7" r="7.3"/><circle cx="1076.36" cy="972.59" r="7.3"/><circle cx="1073.38" cy="980.05" r="7.3"/><circle cx="1085.3" cy="978.56" r="7.3"/><circle cx="1091.27" cy="971.1" r="7.3"/><circle cx="1098.72" cy="975.57" r="7.3"/><circle cx="1062.04" cy="1010.76" r="7.3"/><circle cx="1062.04" cy="1031.64" r="7.3"/><circle cx="1059.96" cy="999.43" r="7.3"/><circle cx="1053.99" cy="991.98" r="7.3"/><circle cx="1040.57" cy="1012.85" r="7.3"/><circle cx="1031.63" cy="1033.72" r="7.3"/><circle cx="1037" cy="1029.85" r="7.3"/><circle cx="1011.35" cy="1052.51" r="7.3"/><circle cx="1013.14" cy="1041.18" r="7.3"/><circle cx="974.97" cy="1053.11" r="7.3"/><circle cx="954.1" cy="1059.67" r="7.3"/><circle cx="939.78" cy="1076.07" r="7.3"/><circle cx="931.14" cy="1073.38" r="7.3"/><circle cx="914.74" cy="1089.78" r="7.3"/><circle cx="906.39" cy="1093.36" r="7.3"/><circle cx="887.6" cy="1084.42" r="7.3"/><circle cx="854.2" cy="1070.4" r="7.3"/><circle cx="852.71" cy="1063.54" r="7.3"/><circle cx="860.17" cy="1060.56" r="7.3"/><circle cx="845.26" cy="1047.14" r="7.3"/><circle cx="861.06" cy="1043.27" r="7.3"/><circle cx="872.99" cy="1063.54" r="7.3"/><circle cx="878.06" cy="1060.56" r="7.3"/><circle cx="854.2" cy="1018.81" r="7.3"/><circle cx="821.4" cy="1009.87" r="7.3"/><circle cx="868.22" cy="966.63" r="7.3"/><circle cx="907.88" cy="962.16" r="7.3"/><circle cx="936.21" cy="924.88" r="7.3"/><circle cx="951.12" cy="915.94" r="7.3"/><circle cx="928.75" cy="948.74" r="7.3"/><circle cx="922.79" cy="959.17" r="7.3"/><circle cx="942.17" cy="939.79" r="7.3"/><circle cx="889.99" cy="994.96" r="7.3"/><circle cx="891.48" cy="1003.9" r="7.3"/><circle cx="876.57" cy="1027.76" r="7.3"/><circle cx="882.53" cy="1020.3" r="7.3"/><circle cx="906.39" cy="1078.45" r="7.3"/><circle cx="912.35" cy="1069.51" r="7.3"/><circle cx="930.24" cy="1065.03" r="7.3"/><circle cx="821.59" cy="1010.18" r="7.3"/><circle cx="854.04" cy="1018.48" r="7.3"/><circle cx="868.11" cy="966.55" r="7.3"/><circle cx="845.03" cy="1047.33" r="7.3"/><circle cx="854.59" cy="1070.23" r="7.3"/><circle cx="859.99" cy="1062.11" r="7.3"/><circle cx="887.04" cy="1084.65" r="7.3"/><circle cx="905.97" cy="1092.77" r="7.3"/><circle cx="914.99" cy="1090.06" r="7.3"/><circle cx="936.27" cy="924.72" r="7.3"/><circle cx="951.41" cy="915.7" r="7.3"/><circle cx="929.41" cy="949.42" r="7.3"/><circle cx="1004.78" cy="883.61" r="7.3"/><circle cx="1031.29" cy="1035.07" r="7.3"/><circle cx="1036.7" cy="1030.56" r="7.3"/><circle cx="1061.04" cy="1032.36" r="7.3"/><circle cx="1061.04" cy="1011.63" r="7.3"/><circle cx="1011.46" cy="1052.2" r="7.3"/><circle cx="940.23" cy="1076.54" r="7.3"/><circle cx="931.22" cy="1073.83" r="7.3"/><circle cx="907.78" cy="962.94" r="7.3"/><circle cx="913.19" cy="971.06" r="7.3"/><circle cx="924" cy="959.34" r="7.3"/><circle cx="889.75" cy="995.4" r="7.3"/><circle cx="891.55" cy="1004.41" r="7.3"/><circle cx="900.56" cy="989.99" r="7.3"/><circle cx="908.68" cy="984.58" r="7.3"/><circle cx="943.84" cy="940.4" r="7.3"/><circle cx="954.66" cy="934.09" r="7.3"/><circle cx="967.28" cy="925.98" r="7.3"/><circle cx="983.51" cy="921.47" r="7.3"/><circle cx="994.33" cy="914.26" r="7.3"/><circle cx="999.73" cy="905.24" r="7.3"/><circle cx="1009.65" cy="896.23" r="7.3"/><circle cx="1017.77" cy="890.82" r="7.3"/><circle cx="1028.58" cy="896.23" r="7.3"/><circle cx="1044.81" cy="888.11" r="7.3"/><circle cx="1053.83" cy="973.76" r="7.3"/><circle cx="1041.21" cy="1013.43" r="7.3"/><circle cx="1053.83" cy="988.19" r="7.3"/><circle cx="1061.04" cy="997.2" r="7.3"/><circle cx="990.72" cy="1044.08" r="7.3"/><circle cx="974.49" cy="1053.1" r="7.3"/><circle cx="954.66" cy="1059.41" r="7.3"/><circle cx="927.61" cy="1063.01" r="7.3"/><circle cx="913.19" cy="1071.13" r="7.3"/><circle cx="902.37" cy="1078.34" r="7.3"/><circle cx="860.9" cy="1043.18" r="7.3"/><circle cx="868.11" cy="1044.08" r="7.3"/><circle cx="873.52" cy="1062.11" r="7.3"/><circle cx="880.73" cy="1058.51" r="7.3"/><circle cx="877.12" cy="1024.25" r="7.3"/><circle cx="882.53" cy="1018.84" r="7.3"/><circle cx="1011.46" cy="1042.28" r="7.3"/><circle cx="1019.57" cy="1029.66" r="7.3"/><circle cx="1029.49" cy="1017.04" r="7.3"/><circle cx="1159.94" cy="765.33" r="7.3"/><circle cx="1211.5" cy="791.47" r="7.3"/><circle cx="1087.09" cy="803.73" r="7.3"/><circle cx="1116.84" cy="806.26" r="7.3"/><circle cx="1121.17" cy="813.47" r="7.3"/><circle cx="1145.15" cy="806.8" r="7.3"/><circle cx="1140.28" cy="816.71" r="7.3"/><circle cx="1134.33" cy="825.73" r="7.3"/><circle cx="1074.29" cy="846.47" r="7.3"/><circle cx="1109.09" cy="846.47" r="7.3"/><circle cx="1110.53" cy="853.68" r="7.3"/><circle cx="1122.25" cy="847.37" r="7.3"/><circle cx="1134.87" cy="840.7" r="7.3"/><circle cx="1151.46" cy="839.25" r="7.3"/><circle cx="1168.59" cy="845.02" r="7.3"/><circle cx="1126.22" cy="859.99" r="7.3"/><circle cx="1140.64" cy="857.65" r="7.3"/><circle cx="1130.72" cy="869.91" r="7.3"/><circle cx="1136.13" cy="867.2" r="7.3"/><circle cx="1124.41" cy="865.4" r="7.3"/><circle cx="1109.63" cy="880.72" r="7.3"/><circle cx="1114.5" cy="891.54" r="7.3"/><circle cx="1099.17" cy="894.25" r="7.3"/><circle cx="1108.19" cy="899.66" r="7.3"/><circle cx="1104.58" cy="909.57" r="7.3"/><circle cx="1093.76" cy="913.18" r="7.3"/><circle cx="1159.57" cy="882.53" r="7.3"/><circle cx="1160.48" cy="884.33" r="7.3"/><circle cx="1148.21" cy="904.17" r="7.3"/><circle cx="1117.2" cy="924" r="7.3"/><circle cx="1121.71" cy="925.8" r="7.3"/><circle cx="1098.27" cy="941.13" r="7.3"/><circle cx="1088.35" cy="955.55" r="7.3"/><circle cx="1024.34" cy="858.19" r="7.3"/><circle cx="1044.18" cy="859.99" r="7.3"/><circle cx="1066.71" cy="859.99" r="7.3"/><circle cx="1027.95" cy="871.71" r="7.3"/><circle cx="1021.64" cy="869" r="7.3"/><circle cx="1039.67" cy="868.1" r="7.3"/><circle cx="1084.75" cy="869" r="7.3"/><circle cx="1091.96" cy="869.91" r="7.3"/><circle cx="1082.04" cy="896.05" r="7.3"/><circle cx="1003.61" cy="874.41" r="7.3"/><circle cx="1006.31" cy="883.43" r="7.3"/><circle cx="1093.76" cy="930.31" r="7.3"/><circle cx="1097.37" cy="974.49" r="7.3"/><circle cx="1090.16" cy="969.98" r="7.3"/><circle cx="1075.73" cy="973.58" r="7.3"/><circle cx="878.37" cy="1040.7" r="7.3"/><circle cx="883.63" cy="1032.51" r="7.3"/><circle cx="888.53" cy="1025.81" r="7.3"/><circle cx="891.27" cy="1022.73" r="7.3"/><circle cx="896.38" cy="1016.51" r="7.3"/><circle cx="902.45" cy="1009.09" r="7.3"/><circle cx="905.16" cy="1003.18" r="7.3"/><circle cx="910.23" cy="996.31" r="7.3"/><circle cx="911.59" cy="992.59" r="7.3"/><circle cx="916.85" cy="983.63" r="7.3"/><circle cx="921.23" cy="979.87" r="7.3"/><circle cx="925.28" cy="974.9" r="7.3"/><circle cx="931.89" cy="969.42" r="7.3"/><circle cx="938.58" cy="965.07" r="7.3"/><circle cx="944.7" cy="956.6" r="7.3"/><circle cx="950.03" cy="949.52" r="7.3"/><circle cx="954.81" cy="945.21" r="7.3"/><circle cx="961.32" cy="938.92" r="7.3"/><circle cx="965.52" cy="934.72" r="7.3"/><circle cx="969.63" cy="930.58" r="7.3"/><circle cx="975.74" cy="929.59" r="7.3"/><circle cx="979.87" cy="927.39" r="7.3"/><circle cx="989.61" cy="924.78" r="7.3"/><circle cx="993.23" cy="921.83" r="7.3"/><circle cx="1000.61" cy="914.43" r="7.3"/><circle cx="1004.04" cy="905.78" r="7.3"/><circle cx="1006.77" cy="904.22" r="7.3"/><circle cx="1010.25" cy="901.56" r="7.3"/><circle cx="1015.74" cy="900.76" r="7.3"/><circle cx="1020.45" cy="903.06" r="7.3"/><circle cx="1030.55" cy="899.53" r="7.3"/><circle cx="1035.06" cy="897.95" r="7.3"/><circle cx="1039.66" cy="892.86" r="7.3"/><circle cx="1045.89" cy="889.67" r="7.3"/><circle cx="1051.83" cy="886.51" r="7.3"/><circle cx="1058.03" cy="883.13" r="7.3"/><circle cx="1063.66" cy="881.42" r="7.3"/><circle cx="1071.88" cy="879.36" r="7.3"/><circle cx="1075.99" cy="877.1" r="7.3"/><circle cx="1079.83" cy="879.13" r="7.3"/><circle cx="1081.53" cy="878.27" r="7.3"/><circle cx="1081.91" cy="883.03" r="7.3"/><circle cx="1081.29" cy="889.9" r="7.3"/><circle cx="1081.68" cy="899.08" r="7.3"/><circle cx="1082.2" cy="902.73" r="7.3"/><circle cx="1083.35" cy="909.78" r="7.3"/><circle cx="1083.91" cy="915.38" r="7.3"/><circle cx="1085.47" cy="921.69" r="7.3"/><circle cx="1085.31" cy="925.98" r="7.3"/><circle cx="1084.31" cy="929.5" r="7.3"/><circle cx="1081.36" cy="936.66" r="7.3"/><circle cx="1082.06" cy="943.76" r="7.3"/><circle cx="1080.18" cy="946.1" r="7.3"/><circle cx="1072.97" cy="954.4" r="7.3"/><circle cx="1069.13" cy="955.67" r="7.3"/><circle cx="1063.34" cy="959.25" r="7.3"/><circle cx="1058.46" cy="961.53" r="7.3"/><circle cx="1052.21" cy="964.46" r="7.3"/><circle cx="1041.98" cy="974.12" r="7.3"/><circle cx="1041.94" cy="978.59" r="7.3"/><circle cx="1037.3" cy="990.49" r="7.3"/><circle cx="1039.33" cy="999.29" r="7.3"/><circle cx="1038.36" cy="1001.44" r="7.3"/><circle cx="1032.15" cy="1008.7" r="7.3"/><circle cx="1030.01" cy="1013.93" r="7.3"/><circle cx="1025.97" cy="1019.49" r="7.3"/><circle cx="1019.32" cy="1024.72" r="7.3"/><circle cx="1017.51" cy="1029.92" r="7.3"/><circle cx="1008.05" cy="1039.48" r="7.3"/><circle cx="1008.71" cy="1042.14" r="7.3"/><circle cx="1000.38" cy="1042.62" r="7.3"/><circle cx="992.56" cy="1041.03" r="7.3"/><circle cx="987.11" cy="1041.66" r="7.3"/><circle cx="982.66" cy="1043.55" r="7.3"/><circle cx="972.49" cy="1044.71" r="7.3"/><circle cx="968.72" cy="1046.34" r="7.3"/><circle cx="961.38" cy="1050.98" r="7.3"/><circle cx="956.01" cy="1051.72" r="7.3"/><circle cx="947.41" cy="1056.39" r="7.3"/><circle cx="940.83" cy="1059.05" r="7.3"/><circle cx="936.34" cy="1061.06" r="7.3"/><circle cx="927.86" cy="1063.25" r="7.3"/><circle cx="924.29" cy="1064.35" r="7.3"/><circle cx="910.58" cy="1069" r="7.3"/><circle cx="909.08" cy="1074.21" r="7.3"/><circle cx="909.84" cy="1078.71" r="7.3"/><circle cx="901.6" cy="1070.42" r="7.3"/><circle cx="896.34" cy="1064.17" r="7.3"/><circle cx="888.04" cy="1060.6" r="7.3"/><circle cx="883.54" cy="1056.11" r="7.3"/><circle cx="876.48" cy="1054.16" r="7.3"/><circle cx="871.68" cy="1048.8" r="7.3"/><circle cx="871.69" cy="1050.59" r="7.3"/><circle cx="875.42" cy="1044" r="7.3"/><circle cx="863.33" cy="1046.42" r="7.3"/><circle cx="868.58" cy="1038.37" r="7.3"/><circle cx="873.34" cy="1035.39" r="7.3"/><circle cx="876.7" cy="1031.32" r="7.3"/><circle cx="880" cy="1026.06" r="7.3"/><circle cx="888.21" cy="1018.48" r="7.3"/><circle cx="893.85" cy="1010.6" r="7.3"/><circle cx="893.84" cy="999.4" r="7.3"/><circle cx="892.65" cy="1000.09" r="7.3"/><circle cx="897.67" cy="996.32" r="7.3"/><circle cx="904.01" cy="994.13" r="7.3"/><circle cx="913.27" cy="984.13" r="7.3"/><circle cx="913" cy="973.99" r="7.3"/><circle cx="912.96" cy="968.75" r="7.3"/><circle cx="905.46" cy="967.81" r="7.3"/><circle cx="921.93" cy="971.87" r="7.3"/><circle cx="924.42" cy="966.87" r="7.3"/><circle cx="923.28" cy="966.11" r="7.3"/><circle cx="931.37" cy="966.33" r="7.3"/><circle cx="943.81" cy="958.55" r="7.3"/><circle cx="945.93" cy="951.3" r="7.3"/><circle cx="946.63" cy="944.68" r="7.3"/><circle cx="945.48" cy="945.29" r="7.3"/><circle cx="952.46" cy="940.4" r="7.3"/><circle cx="960.09" cy="934.95" r="7.3"/><circle cx="967.85" cy="932.45" r="7.3"/><circle cx="972.26" cy="929.75" r="7.3"/><circle cx="977.83" cy="928.23" r="7.3"/><circle cx="988.55" cy="925.23" r="7.3"/><circle cx="991.46" cy="922.56" r="7.3"/><circle cx="1001.9" cy="917.95" r="7.3"/><circle cx="1005.18" cy="907.56" r="7.3"/><circle cx="1009.16" cy="905.27" r="7.3"/><circle cx="1015.29" cy="897.15" r="7.3"/><circle cx="1022.69" cy="896.78" r="7.3"/><circle cx="1030.47" cy="898.25" r="7.3"/><circle cx="1042.37" cy="893.02" r="7.3"/><circle cx="1050.41" cy="890.25" r="7.3"/><circle cx="1053.21" cy="885.29" r="7.3"/><circle cx="1061.06" cy="885.59" r="7.3"/><circle cx="1060.29" cy="880.1" r="7.3"/><circle cx="1059.54" cy="888.26" r="7.3"/><circle cx="1059.48" cy="893.35" r="7.3"/><circle cx="1059.5" cy="899.98" r="7.3"/><circle cx="1060.52" cy="907.06" r="7.3"/><circle cx="1059.62" cy="913.05" r="7.3"/><circle cx="1058.68" cy="917.39" r="7.3"/><circle cx="1059.48" cy="922.69" r="7.3"/><circle cx="1059.5" cy="929.21" r="7.3"/><circle cx="1059.11" cy="938.06" r="7.3"/><circle cx="1060.47" cy="942.18" r="7.3"/><circle cx="1058.1" cy="948.68" r="7.3"/><circle cx="1058.74" cy="953.12" r="7.3"/><circle cx="1060.63" cy="958.88" r="7.3"/><circle cx="1059.5" cy="960.69" r="7.3"/><circle cx="1055.5" cy="966.49" r="7.3"/><circle cx="1049.72" cy="974.65" r="7.3"/><circle cx="1052.31" cy="983.88" r="7.3"/><circle cx="1056.36" cy="993.84" r="7.3"/><circle cx="1057.32" cy="998.04" r="7.3"/><circle cx="1055.11" cy="1001.14" r="7.3"/><circle cx="1051.42" cy="1002.61" r="7.3"/><circle cx="1042.81" cy="1005.75" r="7.3"/><circle cx="1034.93" cy="1010.46" r="7.3"/><circle cx="1031" cy="1013.08" r="7.3"/><circle cx="1023.38" cy="1018.39" r="7.3"/><circle cx="1017.48" cy="1022.61" r="7.3"/><circle cx="1015.03" cy="1032.75" r="7.3"/><circle cx="1013.91" cy="1038.1" r="7.3"/><circle cx="1011.35" cy="1039.95" r="7.3"/><circle cx="1007.84" cy="1040.71" r="7.3"/><circle cx="1000.99" cy="1041.37" r="7.3"/><circle cx="995.38" cy="1039.05" r="7.3"/><circle cx="988.1" cy="1041.29" r="7.3"/><circle cx="976.72" cy="1045.17" r="7.3"/><circle cx="970.94" cy="1049.89" r="7.3"/><circle cx="966.97" cy="1051.88" r="7.3"/><circle cx="958.59" cy="1054.61" r="7.3"/><circle cx="950.36" cy="1056.66" r="7.3"/><circle cx="947.06" cy="1056.73" r="7.3"/><circle cx="938.46" cy="1057.94" r="7.3"/><circle cx="929.36" cy="1061.27" r="7.3"/><circle cx="920.21" cy="1063.76" r="7.3"/><circle cx="911.08" cy="1068.66" r="7.3"/><circle cx="911.17" cy="1073.09" r="7.3"/><circle cx="903.9" cy="1074.68" r="7.3"/><circle cx="900.99" cy="1068.69" r="7.3"/><circle cx="896.39" cy="1057.43" r="7.3"/><circle cx="885.89" cy="1051.94" r="7.3"/><circle cx="875.22" cy="1055.85" r="7.3"/><circle cx="875.63" cy="1060.45" r="7.3"/><circle cx="869.5" cy="1053.22" r="7.3"/><circle cx="867.23" cy="1046.01" r="7.3"/><circle cx="998.7" cy="893.01" r="7.3"/><circle cx="1005.23" cy="898.56" r="7.3"/><circle cx="1016.3" cy="897.35" r="7.3"/><circle cx="1021.66" cy="896.86" r="7.3"/><circle cx="1030.32" cy="894.01" r="7.3"/><circle cx="1037.48" cy="894.36" r="7.3"/><circle cx="1050.46" cy="893.67" r="7.3"/><circle cx="1059.57" cy="892.95" r="7.3"/><circle cx="1063.72" cy="892.48" r="7.3"/><circle cx="1070.14" cy="892.05" r="7.3"/><circle cx="1076.11" cy="893.35" r="7.3"/><circle cx="1090.69" cy="891.55" r="7.3"/><circle cx="1079.62" cy="891.72" r="7.3"/><circle cx="1077.42" cy="898.73" r="7.3"/><circle cx="1075.66" cy="907.18" r="7.3"/><circle cx="1076.61" cy="913.61" r="7.3"/><circle cx="1080.25" cy="922.53" r="7.3"/><circle cx="1082.33" cy="928.78" r="7.3"/><circle cx="1085.05" cy="933.9" r="7.3"/><circle cx="1088.38" cy="938.37" r="7.3"/><circle cx="1084.29" cy="948.29" r="7.3"/><circle cx="1080.82" cy="956.88" r="7.3"/><circle cx="1083.95" cy="962.49" r="7.3"/><circle cx="1086.84" cy="969.76" r="7.3"/><circle cx="1089.11" cy="978.88" r="7.3"/><circle cx="1094.1" cy="973.83" r="7.3"/><circle cx="1089.9" cy="975.76" r="7.3"/><circle cx="1082.12" cy="975.03" r="7.3"/><circle cx="1078.2" cy="974.6" r="7.3"/><circle cx="1070.4" cy="975.38" r="7.3"/><circle cx="1065.02" cy="974.47" r="7.3"/><circle cx="1060.35" cy="973.19" r="7.3"/><circle cx="1051.43" cy="973.5" r="7.3"/><circle cx="1048.37" cy="974.43" r="7.3"/><circle cx="1042.14" cy="974.57" r="7.3"/><circle cx="1034.22" cy="975.16" r="7.3"/><circle cx="1030.32" cy="975.46" r="7.3"/><circle cx="1021.1" cy="974.89" r="7.3"/><circle cx="1017.01" cy="975.33" r="7.3"/><circle cx="1010.02" cy="975.06" r="7.3"/><circle cx="1004.84" cy="974.65" r="7.3"/><circle cx="1006.89" cy="977.44" r="7.3"/><circle cx="1004.86" cy="973.34" r="7.3"/><circle cx="1006.66" cy="965.63" r="7.3"/><circle cx="1006.56" cy="958.45" r="7.3"/><circle cx="1004.66" cy="954.35" r="7.3"/><circle cx="1004.89" cy="946.86" r="7.3"/><circle cx="1006.52" cy="943.53" r="7.3"/><circle cx="1004.94" cy="936.41" r="7.3"/><circle cx="1006.34" cy="929.64" r="7.3"/><circle cx="1005.61" cy="924.18" r="7.3"/><circle cx="1006.09" cy="917.7" r="7.3"/><circle cx="1005.95" cy="910.81" r="7.3"/><circle cx="1004.99" cy="907.08" r="7.3"/><circle cx="1006.81" cy="899.85" r="7.3"/><circle cx="1006.26" cy="891.45" r="7.3"/></g>
<path d="M902.18 1140.9v-6M902.18 694.7v6M999.57 1140.9v-6M999.57 694.7v6M1096.95 1140.9v-6M1096.95 694.7v6M1194.33 1140.9v-6M1194.33 694.7v6M1291.72 1140.9v-6M1291.72 694.7v6M804.8 1066.53h6M1389.1 1066.53h-6M804.8 992.17h6M1389.1 992.17h-6M804.8 917.8h6M1389.1 917.8h-6M804.8 843.43h6M1389.1 843.43h-6M804.8 769.07h6M1389.1 769.07h-6" stroke="#858585" stroke-width="1.6" fill="none"/>
<rect x="804.8" y="694.7" width="584.3" height="446.2" fill="none" stroke="#858585" stroke-width="1.8"/>
<text transform="translate(804.8,1175) scale(0.96,1)" text-anchor="middle" font-size="26.52" fill="#262626">0</text>
<text transform="translate(902.18,1175) scale(0.96,1)" text-anchor="middle" font-size="26.52" fill="#262626">20</text>
<text transform="translate(999.57,1175) scale(0.96,1)" text-anchor="middle" font-size="26.52" fill="#262626">40</text>
<text transform="translate(1096.95,1175) scale(0.96,1)" text-anchor="middle" font-size="26.52" fill="#262626">60</text>
<text transform="translate(1194.33,1175) scale(0.96,1)" text-anchor="middle" font-size="26.52" fill="#262626">80</text>
<text transform="translate(1291.72,1175) scale(0.96,1)" text-anchor="middle" font-size="26.52" fill="#262626">100</text>
<text transform="translate(1389.1,1175) scale(0.96,1)" text-anchor="middle" font-size="26.52" fill="#262626">120</text>
<text transform="translate(795.8,1150.39) scale(0.96,1)" text-anchor="end" font-size="26.52" fill="#262626">0</text>
<text transform="translate(795.8,1076.03) scale(0.96,1)" text-anchor="end" font-size="26.52" fill="#262626">20</text>
<text transform="translate(795.8,1001.66) scale(0.96,1)" text-anchor="end" font-size="26.52" fill="#262626">40</text>
<text transform="translate(795.8,927.29) scale(0.96,1)" text-anchor="end" font-size="26.52" fill="#262626">60</text>
<text transform="translate(795.8,852.93) scale(0.96,1)" text-anchor="end" font-size="26.52" fill="#262626">80</text>
<text transform="translate(795.8,778.56) scale(0.96,1)" text-anchor="end" font-size="26.52" fill="#262626">100</text>
<text transform="translate(795.8,704.19) scale(0.96,1)" text-anchor="end" font-size="26.52" fill="#262626">120</text>
<text transform="translate(1096.6,686.6) scale(1,1)" text-anchor="middle" font-size="28" fill="#000">R-Value: 0.75384 <tspan font-family="Liberation Serif" font-style="italic" fill="#555">&#946;</tspan>: 0.86649</text>
<text transform="translate(1096.7,1209.6)" text-anchor="middle" font-size="27.66" fill="#262626">rMSSD PPG Bicep</text>
<text transform="translate(742.8,916) rotate(-90)" text-anchor="middle" font-size="27.24" fill="#262626">rMSSD ECG Chest</text>
<text transform="translate(1406.1,705.6) scale(0.9,1)" text-anchor="start" font-size="50" fill="#000">D</text>
<g stroke="#ededed" stroke-width="2.2"><line x1="166.69" y1="1265.8" x2="166.69" y2="1709.4"/><line x1="231.18" y1="1265.8" x2="231.18" y2="1709.4"/><line x1="295.67" y1="1265.8" x2="295.67" y2="1709.4"/><line x1="360.16" y1="1265.8" x2="360.16" y2="1709.4"/><line x1="424.64" y1="1265.8" x2="424.64" y2="1709.4"/><line x1="489.13" y1="1265.8" x2="489.13" y2="1709.4"/><line x1="553.62" y1="1265.8" x2="553.62" y2="1709.4"/><line x1="618.11" y1="1265.8" x2="618.11" y2="1709.4"/><line x1="102.2" y1="1660.11" x2="682.6" y2="1660.11"/><line x1="102.2" y1="1610.82" x2="682.6" y2="1610.82"/><line x1="102.2" y1="1561.53" x2="682.6" y2="1561.53"/><line x1="102.2" y1="1512.24" x2="682.6" y2="1512.24"/><line x1="102.2" y1="1462.96" x2="682.6" y2="1462.96"/><line x1="102.2" y1="1413.67" x2="682.6" y2="1413.67"/><line x1="102.2" y1="1364.38" x2="682.6" y2="1364.38"/><line x1="102.2" y1="1315.09" x2="682.6" y2="1315.09"/></g>
<line x1="102.2" y1="1709.4" x2="682.6" y2="1265.8" stroke="#aaaaaa" stroke-width="1.5"/>
<g fill="#000"><path d="M188.03 1643.39L195.68 1635.75L205.23 1624.26L216.56 1614.85L226.27 1607.08L237.95 1597.35L249.63 1587.62L263.24 1575.95L276.85 1564.28L292 1550.99L307.37 1543.33L323.29 1531.41L334.9 1521.72L348.5 1512.02L360.33 1502.16L376.25 1488.19L379.83 1480.72L400.15 1466.49L407.66 1462.76L417.5 1456.86L427.73 1450.67L439.38 1439.02L448.82 1433.39L457.83 1426.03L469.63 1424.01L477.95 1415.92L489.78 1409.96L495.8 1402.03L505.53 1396.19L513.3 1386.48L522.06 1381.3L532.49 1376.95L540.85 1366.7L547.89 1359.58L546.79 1354.08L541.37 1369.7L533.93 1380.77L526.11 1392.5L521.35 1401.06L512.89 1402.35L503.88 1406.88L495.64 1415.06L488.28 1422.46L478.38 1428.45L473.66 1435.51L461.53 1435.76L452.6 1448.43L444.98 1456.02L437.58 1465.37L428.15 1470.96L422.1 1476.97L414.09 1483.02L408.03 1491.04L406.11 1492.92L390.22 1498.94L381.92 1507.07L370.34 1514.78L357.24 1526.1L343.53 1530.06L330.93 1542.49L323.48 1551.89L312.55 1559.13L300.6 1565.15L292.63 1573.06L273.29 1586.59L261.54 1596.39L254.15 1601.94L240.34 1609.86L232.46 1617.71L222.75 1623.53L215.16 1631.17L203.92 1636.74L194.68 1642.34L187.22 1644.01L186.97 1643.4Z"/><circle cx="163.3" cy="1662.52" r="7.3"/><circle cx="173.98" cy="1657.09" r="7.3"/><circle cx="176.89" cy="1648.35" r="7.3"/><circle cx="286.6" cy="1583.3" r="7.3"/><circle cx="624.95" cy="1304.56" r="7.3"/><circle cx="628.83" cy="1307.48" r="7.3"/><circle cx="635.63" cy="1313.3" r="7.3"/><circle cx="590.97" cy="1320.68" r="7.3"/><circle cx="608.45" cy="1319.13" r="7.3"/><circle cx="610.39" cy="1324.95" r="7.3"/><circle cx="599.71" cy="1336.6" r="7.3"/><circle cx="597.77" cy="1341.46" r="7.3"/><circle cx="579.32" cy="1344.37" r="7.3"/><circle cx="584.17" cy="1348.25" r="7.3"/><circle cx="583.2" cy="1356.02" r="7.3"/><circle cx="566.7" cy="1354.08" r="7.3"/><circle cx="566.7" cy="1363.79" r="7.3"/><circle cx="551.17" cy="1356.99" r="7.3"/><circle cx="553.11" cy="1364.76" r="7.3"/><circle cx="539.51" cy="1364.76" r="7.3"/><circle cx="533.69" cy="1373.5" r="7.3"/><circle cx="539.51" cy="1390.97" r="7.3"/><circle cx="501.65" cy="1385.15" r="7.3"/><circle cx="517.18" cy="1381.26" r="7.3"/><circle cx="522.04" cy="1379.32" r="7.3"/><circle cx="525.92" cy="1394.85" r="7.3"/><circle cx="518.16" cy="1402.62" r="7.3"/><circle cx="479.32" cy="1408.45" r="7.3"/><circle cx="494.85" cy="1402.62" r="7.3"/><circle cx="492.91" cy="1422.04" r="7.3"/><circle cx="474.47" cy="1435.63" r="7.3"/><circle cx="449.22" cy="1460.87" r="7.3"/><circle cx="189.51" cy="1643.08" r="7.3"/><circle cx="197.55" cy="1636.94" r="7.3"/><circle cx="202.66" cy="1628.19" r="7.3"/><circle cx="207.24" cy="1625.41" r="7.3"/><circle cx="213.97" cy="1617.22" r="7.3"/><circle cx="216.99" cy="1614.44" r="7.3"/><circle cx="222.96" cy="1610.54" r="7.3"/><circle cx="227.69" cy="1605.61" r="7.3"/><circle cx="234.63" cy="1602.64" r="7.3"/><circle cx="239.72" cy="1595.5" r="7.3"/><circle cx="246.79" cy="1592.23" r="7.3"/><circle cx="252.51" cy="1587.34" r="7.3"/><circle cx="258.82" cy="1582.47" r="7.3"/><circle cx="265.85" cy="1575.33" r="7.3"/><circle cx="271.8" cy="1570.46" r="7.3"/><circle cx="280.52" cy="1563.86" r="7.3"/><circle cx="284.31" cy="1560.76" r="7.3"/><circle cx="290.44" cy="1553.57" r="7.3"/><circle cx="295.08" cy="1550.1" r="7.3"/><circle cx="303.24" cy="1545.93" r="7.3"/><circle cx="310.72" cy="1540.84" r="7.3"/><circle cx="313.82" cy="1538.14" r="7.3"/><circle cx="319.7" cy="1534.57" r="7.3"/><circle cx="325.4" cy="1531.62" r="7.3"/><circle cx="330.32" cy="1525.22" r="7.3"/><circle cx="336.66" cy="1522.25" r="7.3"/><circle cx="342.2" cy="1517.24" r="7.3"/><circle cx="351.45" cy="1512.28" r="7.3"/><circle cx="356.09" cy="1507.82" r="7.3"/><circle cx="361.83" cy="1501.54" r="7.3"/><circle cx="367.57" cy="1496.99" r="7.3"/><circle cx="372.56" cy="1491.49" r="7.3"/><circle cx="378.91" cy="1484.8" r="7.3"/><circle cx="382.32" cy="1480.04" r="7.3"/><circle cx="388.97" cy="1477.4" r="7.3"/><circle cx="393.06" cy="1471.7" r="7.3"/><circle cx="395.89" cy="1470.69" r="7.3"/><circle cx="404.44" cy="1466.68" r="7.3"/><circle cx="413.21" cy="1460.88" r="7.3"/><circle cx="420.5" cy="1455.69" r="7.3"/><circle cx="430.68" cy="1450.39" r="7.3"/><circle cx="435.46" cy="1445.92" r="7.3"/><circle cx="443.62" cy="1438.37" r="7.3"/><circle cx="449.85" cy="1433.98" r="7.3"/><circle cx="455.13" cy="1428.14" r="7.3"/><circle cx="458.54" cy="1427.8" r="7.3"/><circle cx="472.65" cy="1423.92" r="7.3"/><circle cx="480.25" cy="1416.17" r="7.3"/><circle cx="485.37" cy="1412.94" r="7.3"/><circle cx="494.84" cy="1407.69" r="7.3"/><circle cx="497.23" cy="1401.88" r="7.3"/><circle cx="507.18" cy="1393.75" r="7.3"/><circle cx="512" cy="1391.97" r="7.3"/><circle cx="518.3" cy="1384.87" r="7.3"/><circle cx="524.27" cy="1381.63" r="7.3"/><circle cx="534.17" cy="1376.86" r="7.3"/><circle cx="538.94" cy="1372.49" r="7.3"/><circle cx="544.09" cy="1365.13" r="7.3"/><circle cx="547.62" cy="1361.14" r="7.3"/><circle cx="546.16" cy="1353.91" r="7.3"/><circle cx="543.14" cy="1358.53" r="7.3"/><circle cx="543.33" cy="1364.6" r="7.3"/><circle cx="539.73" cy="1368.14" r="7.3"/><circle cx="535.84" cy="1376.42" r="7.3"/><circle cx="530.7" cy="1382.91" r="7.3"/><circle cx="525.88" cy="1388.59" r="7.3"/><circle cx="522.65" cy="1396.51" r="7.3"/><circle cx="518.72" cy="1400.37" r="7.3"/><circle cx="507.78" cy="1405.14" r="7.3"/><circle cx="499.18" cy="1411.2" r="7.3"/><circle cx="490.9" cy="1417.78" r="7.3"/><circle cx="483.55" cy="1425.5" r="7.3"/><circle cx="474.95" cy="1430.35" r="7.3"/><circle cx="470.93" cy="1435.36" r="7.3"/><circle cx="459.14" cy="1437.55" r="7.3"/><circle cx="453.79" cy="1442.46" r="7.3"/><circle cx="450.92" cy="1449.69" r="7.3"/><circle cx="443.26" cy="1457.32" r="7.3"/><circle cx="438.59" cy="1462.43" r="7.3"/><circle cx="437.49" cy="1464.84" r="7.3"/><circle cx="424.7" cy="1472.75" r="7.3"/><circle cx="421.46" cy="1475.87" r="7.3"/><circle cx="409.61" cy="1485.53" r="7.3"/><circle cx="406.22" cy="1491.18" r="7.3"/><circle cx="401.62" cy="1493.96" r="7.3"/><circle cx="396.73" cy="1494.42" r="7.3"/><circle cx="383.83" cy="1502.09" r="7.3"/><circle cx="379.34" cy="1506.33" r="7.3"/><circle cx="375.23" cy="1510.39" r="7.3"/><circle cx="368.57" cy="1514.59" r="7.3"/><circle cx="360.04" cy="1520.44" r="7.3"/><circle cx="355.98" cy="1524.91" r="7.3"/><circle cx="348.59" cy="1527.39" r="7.3"/><circle cx="339.73" cy="1532.43" r="7.3"/><circle cx="333.76" cy="1536.3" r="7.3"/><circle cx="328.44" cy="1544.86" r="7.3"/><circle cx="325.92" cy="1547.47" r="7.3"/><circle cx="322.55" cy="1549.67" r="7.3"/><circle cx="316.11" cy="1555.72" r="7.3"/><circle cx="312.08" cy="1559.17" r="7.3"/><circle cx="305.15" cy="1563.04" r="7.3"/><circle cx="298.06" cy="1565.6" r="7.3"/><circle cx="289.98" cy="1573" r="7.3"/><circle cx="282.19" cy="1577.51" r="7.3"/><circle cx="278.96" cy="1581.26" r="7.3"/><circle cx="270.24" cy="1589.38" r="7.3"/><circle cx="264.07" cy="1591.06" r="7.3"/><circle cx="257.97" cy="1598.24" r="7.3"/><circle cx="252.26" cy="1601.85" r="7.3"/><circle cx="244.38" cy="1605" r="7.3"/><circle cx="237.74" cy="1610.51" r="7.3"/><circle cx="230.35" cy="1618.52" r="7.3"/><circle cx="218.42" cy="1625.42" r="7.3"/><circle cx="213.13" cy="1632.39" r="7.3"/><circle cx="207.59" cy="1634.82" r="7.3"/><circle cx="198.26" cy="1637.59" r="7.3"/><circle cx="191.33" cy="1641.55" r="7.3"/><circle cx="189.63" cy="1643.8" r="7.3"/><circle cx="188.35" cy="1644.68" r="7.3"/></g>
<path d="M166.69 1709.4v-6M166.69 1265.8v6M231.18 1709.4v-6M231.18 1265.8v6M295.67 1709.4v-6M295.67 1265.8v6M360.16 1709.4v-6M360.16 1265.8v6M424.64 1709.4v-6M424.64 1265.8v6M489.13 1709.4v-6M489.13 1265.8v6M553.62 1709.4v-6M553.62 1265.8v6M618.11 1709.4v-6M618.11 1265.8v6M102.2 1660.11h6M682.6 1660.11h-6M102.2 1610.82h6M682.6 1610.82h-6M102.2 1561.53h6M682.6 1561.53h-6M102.2 1512.24h6M682.6 1512.24h-6M102.2 1462.96h6M682.6 1462.96h-6M102.2 1413.67h6M682.6 1413.67h-6M102.2 1364.38h6M682.6 1364.38h-6M102.2 1315.09h6M682.6 1315.09h-6" stroke="#858585" stroke-width="1.6" fill="none"/>
<rect x="102.2" y="1265.8" width="580.4" height="443.6" fill="none" stroke="#858585" stroke-width="1.8"/>
<text transform="translate(102.2,1743.6) scale(0.96,1)" text-anchor="middle" font-size="26.52" fill="#262626">0</text>
<text transform="translate(166.69,1743.6) scale(0.96,1)" text-anchor="middle" font-size="26.52" fill="#262626">20</text>
<text transform="translate(231.18,1743.6) scale(0.96,1)" text-anchor="middle" font-size="26.52" fill="#262626">40</text>
<text transform="translate(295.67,1743.6) scale(0.96,1)" text-anchor="middle" font-size="26.52" fill="#262626">60</text>
<text transform="translate(360.16,1743.6) scale(0.96,1)" text-anchor="middle" font-size="26.52" fill="#262626">80</text>
<text transform="translate(424.64,1743.6) scale(0.96,1)" text-anchor="middle" font-size="26.52" fill="#262626">100</text>
<text transform="translate(489.13,1743.6) scale(0.96,1)" text-anchor="middle" font-size="26.52" fill="#262626">120</text>
<text transform="translate(553.62,1743.6) scale(0.96,1)" text-anchor="middle" font-size="26.52" fill="#262626">140</text>
<text transform="translate(618.11,1743.6) scale(0.96,1)" text-anchor="middle" font-size="26.52" fill="#262626">160</text>
<text transform="translate(682.6,1743.6) scale(0.96,1)" text-anchor="middle" font-size="26.52" fill="#262626">180</text>
<text transform="translate(93.2,1718.89) scale(0.96,1)" text-anchor="end" font-size="26.52" fill="#262626">0</text>
<text transform="translate(93.2,1669.61) scale(0.96,1)" text-anchor="end" font-size="26.52" fill="#262626">20</text>
<text transform="translate(93.2,1620.32) scale(0.96,1)" text-anchor="end" font-size="26.52" fill="#262626">40</text>
<text transform="translate(93.2,1571.03) scale(0.96,1)" text-anchor="end" font-size="26.52" fill="#262626">60</text>
<text transform="translate(93.2,1521.74) scale(0.96,1)" text-anchor="end" font-size="26.52" fill="#262626">80</text>
<text transform="translate(93.2,1472.45) scale(0.96,1)" text-anchor="end" font-size="26.52" fill="#262626">100</text>
<text transform="translate(93.2,1423.16) scale(0.96,1)" text-anchor="end" font-size="26.52" fill="#262626">120</text>
<text transform="translate(93.2,1373.87) scale(0.96,1)" text-anchor="end" font-size="26.52" fill="#262626">140</text>
<text transform="translate(93.2,1324.58) scale(0.96,1)" text-anchor="end" font-size="26.52" fill="#262626">160</text>
<text transform="translate(93.2,1275.29) scale(0.96,1)" text-anchor="end" font-size="26.52" fill="#262626">180</text>
<text transform="translate(392,1258.8)" text-anchor="middle" font-size="28" fill="#000">R-Value: 0.99748 <tspan font-family="Liberation Serif" font-style="italic" fill="#555">&#946;</tspan>: 0.99748</text>
<text transform="translate(391.7,1777.4)" text-anchor="middle" font-size="27.55" fill="#262626">SDNN ECG Bicep</text>
<text transform="translate(40,1488.3) rotate(-90)" text-anchor="middle" font-size="27.72" fill="#262626">SDNN ECG Chest</text>
<text transform="translate(13.5,1267.4) scale(0.77,1)" text-anchor="start" font-size="50" fill="#000">E</text>
<g stroke="#ededed" stroke-width="2.2"><line x1="871" y1="1262.5" x2="871" y2="1708"/><line x1="935.8" y1="1262.5" x2="935.8" y2="1708"/><line x1="1000.6" y1="1262.5" x2="1000.6" y2="1708"/><line x1="1065.4" y1="1262.5" x2="1065.4" y2="1708"/><line x1="1130.2" y1="1262.5" x2="1130.2" y2="1708"/><line x1="1195" y1="1262.5" x2="1195" y2="1708"/><line x1="1259.8" y1="1262.5" x2="1259.8" y2="1708"/><line x1="1324.6" y1="1262.5" x2="1324.6" y2="1708"/><line x1="806.2" y1="1658.5" x2="1389.4" y2="1658.5"/><line x1="806.2" y1="1609" x2="1389.4" y2="1609"/><line x1="806.2" y1="1559.5" x2="1389.4" y2="1559.5"/><line x1="806.2" y1="1510" x2="1389.4" y2="1510"/><line x1="806.2" y1="1460.5" x2="1389.4" y2="1460.5"/><line x1="806.2" y1="1411" x2="1389.4" y2="1411"/><line x1="806.2" y1="1361.5" x2="1389.4" y2="1361.5"/><line x1="806.2" y1="1312" x2="1389.4" y2="1312"/></g>
<line x1="806.2" y1="1677.06" x2="1343.07" y2="1262.5" stroke="#aaaaaa" stroke-width="1.5"/>
<g fill="#000"><path d="M870.55 1605.19L875.51 1592.69L893.1 1584.14L912.96 1573.96L920.15 1556.94L929.16 1535.77L940.58 1524.44L952.86 1518.34L968.72 1505.67L982.23 1495.17L985.28 1479.67L1000.15 1468.03L1012.82 1455.37L1021.72 1446.42L1037.38 1437.01L1049.86 1424.53L1064.56 1415.71L1075.74 1412.94L1090.86 1412.97L1107.33 1412.88L1122.07 1406.73L1130.34 1409.79L1124.25 1422.56L1117.69 1439.79L1123.95 1458.12L1115.45 1471.49L1107.46 1479.66L1089.24 1485.66L1075.53 1492.64L1065.1 1506.49L1058.62 1525.79L1052.55 1544.09L1043.88 1558.62L1032.37 1567.15L1019.89 1573.39L1006.63 1583.37L993.6 1599.64L988.68 1610.84L972.28 1613.29L960.86 1610.3L947.31 1607.05L933.29 1610.45L920.39 1616.88L909.32 1622.69L897.92 1619.57L885.44 1619.57L875.51 1617.7Z"/><path d="M874.2 1625.44L874.14 1606.01L883.3 1594.28L896.44 1579.5L906.32 1569.62L923.46 1552.39L929.82 1536.12L945.86 1526.71L958.91 1513.58L976.43 1506.16L983.54 1485.56L994.32 1474.19L1056.5 1462.62L1055.69 1559.17L1038.96 1571.19L1017.58 1582.68L1000.46 1592.98L990.01 1603.37L984.63 1609.14L974.79 1610.41L961.72 1608.76L944.32 1608.78L930.61 1612.92L923.56 1623.22L911.54 1630.72L897.69 1633.75L887.56 1633.83L879.1 1629.51Z"/><path d="M994.23 1464.22L1009.16 1451.93L1029.06 1433.83L1039.85 1423.04L1050.89 1413.16L1070.34 1413.27L1082.11 1405.71L1089.72 1402.38L1096.98 1411.41L1116.46 1409.77L1127.14 1408.03L1122.91 1418.35L1117.3 1431.31L1126.67 1445.12L1129.87 1457.69L1126.67 1468.47L1120.06 1478.32L1110.07 1488.38L1096.41 1495.16L1078.7 1502.24L1067.36 1505.6L992.27 1506.23Z"/><circle cx="1144.85" cy="1304.04" r="7.3"/><circle cx="1152.65" cy="1309.66" r="7.3"/><circle cx="1215.69" cy="1301.55" r="7.3"/><circle cx="1228.8" cy="1303.42" r="7.3"/><circle cx="1179.18" cy="1318.09" r="7.3"/><circle cx="1193.22" cy="1321.21" r="7.3"/><circle cx="1200.71" cy="1317.46" r="7.3"/><circle cx="1196.34" cy="1333.07" r="7.3"/><circle cx="1181.99" cy="1337.43" r="7.3"/><circle cx="1170.44" cy="1342.43" r="7.3"/><circle cx="1176.68" cy="1347.73" r="7.3"/><circle cx="1196.97" cy="1349.29" r="7.3"/><circle cx="1204.77" cy="1355.53" r="7.3"/><circle cx="1243.78" cy="1351.48" r="7.3"/><circle cx="1121.45" cy="1343.05" r="7.3"/><circle cx="1105.22" cy="1365.52" r="7.3"/><circle cx="1128.31" cy="1356.47" r="7.3"/><circle cx="1137.67" cy="1361.78" r="7.3"/><circle cx="1151.09" cy="1356.16" r="7.3"/><circle cx="1167.32" cy="1361.78" r="7.3"/><circle cx="1189.17" cy="1367.39" r="7.3"/><circle cx="1151.72" cy="1372.7" r="7.3"/><circle cx="1126.75" cy="1378.32" r="7.3"/><circle cx="1139.23" cy="1382.06" r="7.3"/><circle cx="1162.64" cy="1380.5" r="7.3"/><circle cx="1172" cy="1386.74" r="7.3"/><circle cx="1192.29" cy="1385.18" r="7.3"/><circle cx="1198.53" cy="1392.98" r="7.3"/><circle cx="1207.89" cy="1402.35" r="7.3"/><circle cx="1179.8" cy="1397.66" r="7.3"/><circle cx="1161.08" cy="1405.47" r="7.3"/><circle cx="1156.4" cy="1411.71" r="7.3"/><circle cx="1145.48" cy="1417.95" r="7.3"/><circle cx="1147.04" cy="1427.31" r="7.3"/><circle cx="1141.42" cy="1433.55" r="7.3"/><circle cx="1162.64" cy="1439.79" r="7.3"/><circle cx="1153.28" cy="1436.67" r="7.3"/><circle cx="1147.04" cy="1452.28" r="7.3"/><circle cx="1154.84" cy="1453.84" r="7.3"/><circle cx="1161.08" cy="1477.24" r="7.3"/><circle cx="1136.11" cy="1464.76" r="7.3"/><circle cx="1128.31" cy="1488.17" r="7.3"/><circle cx="1117.39" cy="1495.97" r="7.3"/><circle cx="1123.63" cy="1492.85" r="7.3"/><circle cx="1106.47" cy="1511.57" r="7.3"/><circle cx="1097.11" cy="1511.57" r="7.3"/><circle cx="1109.59" cy="1525.61" r="7.3"/><circle cx="1106.47" cy="1534.98" r="7.3"/><circle cx="1086.18" cy="1544.34" r="7.3"/><circle cx="1081.5" cy="1533.42" r="7.3"/><circle cx="1073.7" cy="1527.17" r="7.3"/><circle cx="1034.07" cy="1386.12" r="7.3"/><circle cx="1034.07" cy="1397.66" r="7.3"/><circle cx="991" cy="1436.67" r="7.3"/><circle cx="974.46" cy="1451.34" r="7.3"/><circle cx="941.07" cy="1491.29" r="7.3"/><circle cx="924.84" cy="1514.69" r="7.3"/><circle cx="888.64" cy="1530.29" r="7.3"/><circle cx="903" cy="1541.22" r="7.3"/><circle cx="889.58" cy="1552.14" r="7.3"/><circle cx="879.28" cy="1563.06" r="7.3"/><circle cx="882.4" cy="1575.54" r="7.3"/><circle cx="856.19" cy="1582.41" r="7.3"/><circle cx="863.05" cy="1591.15" r="7.3"/><circle cx="850.57" cy="1603.63" r="7.3"/><circle cx="829.35" cy="1615.18" r="7.3"/><circle cx="840.27" cy="1623.29" r="7.3"/><circle cx="829.35" cy="1637.96" r="7.3"/><circle cx="830.91" cy="1654.5" r="7.3"/><circle cx="870.85" cy="1633.28" r="7.3"/><circle cx="886.46" cy="1639.52" r="7.3"/><circle cx="900.5" cy="1636.4" r="7.3"/><circle cx="911.42" cy="1637.96" r="7.3"/><circle cx="923.91" cy="1631.72" r="7.3"/><circle cx="937.95" cy="1647.32" r="7.3"/><circle cx="927.96" cy="1661.36" r="7.3"/><circle cx="945.75" cy="1627.04" r="7.3"/><circle cx="953.55" cy="1625.48" r="7.3"/><circle cx="973.84" cy="1628.6" r="7.3"/><circle cx="1018.46" cy="1635.77" r="7.3"/><circle cx="984.76" cy="1614.55" r="7.3"/><circle cx="1009.73" cy="1602.07" r="7.3"/><circle cx="1022.21" cy="1598.95" r="7.3"/><circle cx="1030.01" cy="1589.59" r="7.3"/><circle cx="1062.78" cy="1558.38" r="7.3"/><circle cx="1050.29" cy="1569.3" r="7.3"/><circle cx="1040.93" cy="1572.42" r="7.3"/><circle cx="1015.97" cy="1602.07" r="7.3"/><circle cx="1083.06" cy="1386.74" r="7.3"/><circle cx="1093.98" cy="1386.74" r="7.3"/><circle cx="1103.35" cy="1389.86" r="7.3"/><circle cx="1112.71" cy="1391.42" r="7.3"/><circle cx="1081.5" cy="1399.22" r="7.3"/><circle cx="1050.29" cy="1407.03" r="7.3"/><circle cx="1034.69" cy="1424.19" r="7.3"/><circle cx="1028.45" cy="1435.11" r="7.3"/><circle cx="1014.41" cy="1439.79" r="7.3"/><circle cx="1009.73" cy="1450.72" r="7.3"/><circle cx="980.08" cy="1471.94" r="7.3"/><circle cx="953.55" cy="1503.77" r="7.3"/><circle cx="962.91" cy="1499.09" r="7.3"/><circle cx="919.22" cy="1533.42" r="7.3"/><circle cx="912.98" cy="1549.02" r="7.3"/><circle cx="829.99" cy="1614.79" r="7.3"/><circle cx="839.64" cy="1623.62" r="7.3"/><circle cx="829.49" cy="1638.6" r="7.3"/><circle cx="831.15" cy="1654.74" r="7.3"/><circle cx="851.29" cy="1603.97" r="7.3"/><circle cx="856.62" cy="1582" r="7.3"/><circle cx="863.61" cy="1590.66" r="7.3"/><circle cx="869.93" cy="1601.48" r="7.3"/><circle cx="869.93" cy="1633.1" r="7.3"/><circle cx="879.09" cy="1562.36" r="7.3"/><circle cx="881.58" cy="1576.51" r="7.3"/><circle cx="889.07" cy="1552.38" r="7.3"/><circle cx="888.24" cy="1530.74" r="7.3"/><circle cx="903.22" cy="1541.56" r="7.3"/><circle cx="913.21" cy="1549.88" r="7.3"/><circle cx="924.86" cy="1514.93" r="7.3"/><circle cx="924.86" cy="1531.57" r="7.3"/><circle cx="940.67" cy="1491.62" r="7.3"/><circle cx="941.5" cy="1519.92" r="7.3"/><circle cx="954.82" cy="1503.28" r="7.3"/><circle cx="962.31" cy="1499.95" r="7.3"/><circle cx="973.13" cy="1497.45" r="7.3"/><circle cx="979.79" cy="1474.98" r="7.3"/><circle cx="993.1" cy="1466.66" r="7.3"/><circle cx="886.58" cy="1639.76" r="7.3"/><circle cx="898.23" cy="1638.93" r="7.3"/><circle cx="910.71" cy="1638.1" r="7.3"/><circle cx="924.03" cy="1631.44" r="7.3"/><circle cx="928.19" cy="1660.57" r="7.3"/><circle cx="938.51" cy="1647.58" r="7.3"/><circle cx="946.5" cy="1628.11" r="7.3"/><circle cx="953.16" cy="1626.44" r="7.3"/><circle cx="949.83" cy="1616.46" r="7.3"/><circle cx="973.96" cy="1628.61" r="7.3"/><circle cx="984.78" cy="1615.63" r="7.3"/><circle cx="986.44" cy="1609.8" r="7.3"/><circle cx="1013.08" cy="1603.14" r="7.3"/><circle cx="1018.9" cy="1635.6" r="7.3"/><circle cx="1029.72" cy="1589.83" r="7.3"/><circle cx="1022.23" cy="1598.15" r="7.3"/><circle cx="1011.41" cy="1588.16" r="7.3"/><circle cx="1041.37" cy="1573.18" r="7.3"/><circle cx="1051.36" cy="1568.19" r="7.3"/><circle cx="1056.35" cy="1563.2" r="7.3"/><circle cx="893.24" cy="1568.19" r="7.3"/><circle cx="903.22" cy="1559.87" r="7.3"/><circle cx="903.22" cy="1576.51" r="7.3"/><circle cx="891.57" cy="1588.16" r="7.3"/><circle cx="879.92" cy="1591.49" r="7.3"/><circle cx="874.93" cy="1606.47" r="7.3"/><circle cx="891.57" cy="1606.47" r="7.3"/><circle cx="906.55" cy="1606.47" r="7.3"/><circle cx="929.85" cy="1613.13" r="7.3"/><circle cx="936.51" cy="1609.8" r="7.3"/><circle cx="961.48" cy="1613.13" r="7.3"/><circle cx="969.8" cy="1614.79" r="7.3"/><circle cx="996.43" cy="1603.14" r="7.3"/><circle cx="1003.09" cy="1596.48" r="7.3"/><circle cx="1145.07" cy="1304.79" r="7.3"/><circle cx="1152.28" cy="1310.19" r="7.3"/><circle cx="1215.39" cy="1301.72" r="7.3"/><circle cx="1228.37" cy="1303.52" r="7.3"/><circle cx="1178.97" cy="1317.95" r="7.3"/><circle cx="1193.75" cy="1320.65" r="7.3"/><circle cx="1201.32" cy="1317.41" r="7.3"/><circle cx="1195.55" cy="1333.27" r="7.3"/><circle cx="1182.03" cy="1337.78" r="7.3"/><circle cx="1171.21" cy="1342.29" r="7.3"/><circle cx="1177.52" cy="1349.5" r="7.3"/><circle cx="1188.34" cy="1342.29" r="7.3"/><circle cx="1197.36" cy="1347.7" r="7.3"/><circle cx="1205.47" cy="1355.81" r="7.3"/><circle cx="1202.77" cy="1351.31" r="7.3"/><circle cx="1243.34" cy="1351.67" r="7.3"/><circle cx="1189.24" cy="1367.17" r="7.3"/><circle cx="1168.51" cy="1357.62" r="7.3"/><circle cx="1167.61" cy="1363.03" r="7.3"/><circle cx="1121.63" cy="1343.19" r="7.3"/><circle cx="1128.84" cy="1356.71" r="7.3"/><circle cx="1137.85" cy="1363.93" r="7.3"/><circle cx="1150.48" cy="1356.71" r="7.3"/><circle cx="1152.28" cy="1371.14" r="7.3"/><circle cx="1139.66" cy="1374.75" r="7.3"/><circle cx="1126.68" cy="1378.71" r="7.3"/><circle cx="1106.3" cy="1366.09" r="7.3"/><circle cx="1034.18" cy="1386.47" r="7.3"/><circle cx="1034.18" cy="1397.65" r="7.3"/><circle cx="1163.1" cy="1381.96" r="7.3"/><circle cx="1170.31" cy="1387.37" r="7.3"/><circle cx="1179.33" cy="1397.28" r="7.3"/><circle cx="1193.75" cy="1386.47" r="7.3"/><circle cx="1197.36" cy="1393.68" r="7.3"/><circle cx="1208.18" cy="1402.69" r="7.3"/><circle cx="1155.89" cy="1401.79" r="7.3"/><circle cx="1143.26" cy="1396.38" r="7.3"/><circle cx="1146.87" cy="1419.82" r="7.3"/><circle cx="1159.49" cy="1409" r="7.3"/><circle cx="1142.36" cy="1433.35" r="7.3"/><circle cx="1153.18" cy="1436.05" r="7.3"/><circle cx="1163.1" cy="1439.66" r="7.3"/><circle cx="1146.87" cy="1453.18" r="7.3"/><circle cx="1154.98" cy="1454.08" r="7.3"/><circle cx="1161.29" cy="1477.52" r="7.3"/><circle cx="1137.85" cy="1465.8" r="7.3"/><circle cx="1127.04" cy="1439.66" r="7.3"/><circle cx="1125.23" cy="1488.34" r="7.3"/><circle cx="1116.22" cy="1496.46" r="7.3"/><circle cx="992.7" cy="1436.41" r="7.3"/><circle cx="1013.44" cy="1439.66" r="7.3"/><circle cx="1031.47" cy="1437.85" r="7.3"/><circle cx="1034.18" cy="1424.33" r="7.3"/><circle cx="1043.19" cy="1416.22" r="7.3"/><circle cx="1051.31" cy="1407.2" r="7.3"/><circle cx="1063.93" cy="1414.41" r="7.3"/><circle cx="1073.84" cy="1408.1" r="7.3"/><circle cx="1081.96" cy="1398.19" r="7.3"/><circle cx="1084.66" cy="1387.37" r="7.3"/><circle cx="1093.68" cy="1388.27" r="7.3"/><circle cx="1103.6" cy="1390.97" r="7.3"/><circle cx="1114.41" cy="1392.78" r="7.3"/><circle cx="1127.04" cy="1398.19" r="7.3"/><circle cx="1134.25" cy="1409" r="7.3"/><circle cx="1123.43" cy="1422.53" r="7.3"/><circle cx="1105.4" cy="1409" r="7.3"/><circle cx="1098.19" cy="1412.61" r="7.3"/><circle cx="871.53" cy="1602.92" r="7.3"/><circle cx="874.31" cy="1597.95" r="7.3"/><circle cx="875.54" cy="1593.39" r="7.3"/><circle cx="882.44" cy="1589.22" r="7.3"/><circle cx="890.43" cy="1585.53" r="7.3"/><circle cx="895.24" cy="1585.19" r="7.3"/><circle cx="903.15" cy="1580.79" r="7.3"/><circle cx="907.17" cy="1576.86" r="7.3"/><circle cx="916.52" cy="1568.54" r="7.3"/><circle cx="918.59" cy="1559.92" r="7.3"/><circle cx="921.81" cy="1555.63" r="7.3"/><circle cx="925.57" cy="1549.04" r="7.3"/><circle cx="928.3" cy="1539.11" r="7.3"/><circle cx="930.99" cy="1534.34" r="7.3"/><circle cx="938.32" cy="1529.05" r="7.3"/><circle cx="942.38" cy="1524" r="7.3"/><circle cx="948.68" cy="1520.27" r="7.3"/><circle cx="954.27" cy="1519.47" r="7.3"/><circle cx="959.35" cy="1514.77" r="7.3"/><circle cx="966.01" cy="1509.49" r="7.3"/><circle cx="969.82" cy="1506.09" r="7.3"/><circle cx="977.93" cy="1501.74" r="7.3"/><circle cx="985.45" cy="1489.4" r="7.3"/><circle cx="986.92" cy="1485.12" r="7.3"/><circle cx="986.67" cy="1478.78" r="7.3"/><circle cx="990.05" cy="1476.16" r="7.3"/><circle cx="997" cy="1473.8" r="7.3"/><circle cx="1002.96" cy="1467.41" r="7.3"/><circle cx="1007.89" cy="1460.54" r="7.3"/><circle cx="1014.48" cy="1453.69" r="7.3"/><circle cx="1018.83" cy="1451.48" r="7.3"/><circle cx="1022.94" cy="1448.36" r="7.3"/><circle cx="1030.23" cy="1442.91" r="7.3"/><circle cx="1032.77" cy="1441.68" r="7.3"/><circle cx="1040.77" cy="1434.93" r="7.3"/><circle cx="1047.14" cy="1430.86" r="7.3"/><circle cx="1050.73" cy="1423.97" r="7.3"/><circle cx="1058.56" cy="1422.03" r="7.3"/><circle cx="1062.22" cy="1419.79" r="7.3"/><circle cx="1066.2" cy="1416.21" r="7.3"/><circle cx="1073.05" cy="1415.29" r="7.3"/><circle cx="1079.66" cy="1413.31" r="7.3"/><circle cx="1087.46" cy="1412.68" r="7.3"/><circle cx="1095.42" cy="1414.33" r="7.3"/><circle cx="1102.5" cy="1413.14" r="7.3"/><circle cx="1110.51" cy="1413.29" r="7.3"/><circle cx="1119.21" cy="1408.35" r="7.3"/><circle cx="1123.25" cy="1407.5" r="7.3"/><circle cx="1126.78" cy="1410.46" r="7.3"/><circle cx="1129.51" cy="1407.67" r="7.3"/><circle cx="1126.41" cy="1416.33" r="7.3"/><circle cx="1123.78" cy="1422.5" r="7.3"/><circle cx="1120.06" cy="1431.26" r="7.3"/><circle cx="1117.86" cy="1444.57" r="7.3"/><circle cx="1118.72" cy="1451.45" r="7.3"/><circle cx="1123.42" cy="1456.78" r="7.3"/><circle cx="1122.1" cy="1458.22" r="7.3"/><circle cx="1119.27" cy="1462.54" r="7.3"/><circle cx="1117.67" cy="1467.81" r="7.3"/><circle cx="1114.16" cy="1472.03" r="7.3"/><circle cx="1107.04" cy="1476.59" r="7.3"/><circle cx="1107.11" cy="1479.04" r="7.3"/><circle cx="1100.08" cy="1482.05" r="7.3"/><circle cx="1092.25" cy="1483.87" r="7.3"/><circle cx="1086.7" cy="1484.44" r="7.3"/><circle cx="1080.97" cy="1488.22" r="7.3"/><circle cx="1072.86" cy="1492.16" r="7.3"/><circle cx="1065.95" cy="1501.32" r="7.3"/><circle cx="1063.03" cy="1507.18" r="7.3"/><circle cx="1060.44" cy="1513.5" r="7.3"/><circle cx="1058.23" cy="1519.68" r="7.3"/><circle cx="1055.19" cy="1528.17" r="7.3"/><circle cx="1055.85" cy="1534.37" r="7.3"/><circle cx="1051.41" cy="1539.49" r="7.3"/><circle cx="1050.9" cy="1542.93" r="7.3"/><circle cx="1046.55" cy="1551.07" r="7.3"/><circle cx="1044.24" cy="1555.69" r="7.3"/><circle cx="1041" cy="1559.78" r="7.3"/><circle cx="1034.17" cy="1563.18" r="7.3"/><circle cx="1029.76" cy="1567.35" r="7.3"/><circle cx="1023.01" cy="1571.32" r="7.3"/><circle cx="1016.46" cy="1574.4" r="7.3"/><circle cx="1011.31" cy="1576.92" r="7.3"/><circle cx="1004.04" cy="1582.48" r="7.3"/><circle cx="1001.13" cy="1590.14" r="7.3"/><circle cx="994.82" cy="1594.19" r="7.3"/><circle cx="992.48" cy="1599.89" r="7.3"/><circle cx="987.57" cy="1606.27" r="7.3"/><circle cx="986.93" cy="1610.68" r="7.3"/><circle cx="981.91" cy="1610.16" r="7.3"/><circle cx="976.28" cy="1611.56" r="7.3"/><circle cx="971.53" cy="1611.26" r="7.3"/><circle cx="967.42" cy="1609.46" r="7.3"/><circle cx="959.87" cy="1608.13" r="7.3"/><circle cx="951.63" cy="1606.61" r="7.3"/><circle cx="942.46" cy="1607.14" r="7.3"/><circle cx="938.12" cy="1608.98" r="7.3"/><circle cx="930.51" cy="1611.25" r="7.3"/><circle cx="925.41" cy="1614.23" r="7.3"/><circle cx="917.48" cy="1616.43" r="7.3"/><circle cx="911.3" cy="1618.78" r="7.3"/><circle cx="910.48" cy="1620.11" r="7.3"/><circle cx="902.56" cy="1618.81" r="7.3"/><circle cx="896.91" cy="1618" r="7.3"/><circle cx="887.74" cy="1617.57" r="7.3"/><circle cx="885.59" cy="1619.79" r="7.3"/><circle cx="878.78" cy="1615.5" r="7.3"/><circle cx="876.81" cy="1617.55" r="7.3"/><circle cx="874.02" cy="1606.58" r="7.3"/><circle cx="874.78" cy="1623.69" r="7.3"/><circle cx="874.39" cy="1618.63" r="7.3"/><circle cx="875.2" cy="1609.77" r="7.3"/><circle cx="873.26" cy="1607.2" r="7.3"/><circle cx="881.08" cy="1598.48" r="7.3"/><circle cx="885.4" cy="1592" r="7.3"/><circle cx="890.21" cy="1587.46" r="7.3"/><circle cx="893.79" cy="1582.3" r="7.3"/><circle cx="899.16" cy="1576.45" r="7.3"/><circle cx="903.12" cy="1573.92" r="7.3"/><circle cx="908.21" cy="1570.16" r="7.3"/><circle cx="914.63" cy="1563.64" r="7.3"/><circle cx="921.61" cy="1556.7" r="7.3"/><circle cx="925.47" cy="1548.79" r="7.3"/><circle cx="928.71" cy="1542.55" r="7.3"/><circle cx="930.84" cy="1538.36" r="7.3"/><circle cx="937.25" cy="1534.75" r="7.3"/><circle cx="943.26" cy="1528.93" r="7.3"/><circle cx="947.14" cy="1527.04" r="7.3"/><circle cx="951.41" cy="1520.79" r="7.3"/><circle cx="957.24" cy="1518.74" r="7.3"/><circle cx="963.37" cy="1513.37" r="7.3"/><circle cx="968.07" cy="1509.79" r="7.3"/><circle cx="977.77" cy="1504.37" r="7.3"/><circle cx="982.22" cy="1497.93" r="7.3"/><circle cx="983.85" cy="1487.99" r="7.3"/><circle cx="985.82" cy="1484.99" r="7.3"/><circle cx="988.93" cy="1480.95" r="7.3"/><circle cx="993.25" cy="1475.76" r="7.3"/><circle cx="995.99" cy="1474.33" r="7.3"/><circle cx="1001.95" cy="1475.43" r="7.3"/><circle cx="1008.4" cy="1472.74" r="7.3"/><circle cx="1013.71" cy="1473.82" r="7.3"/><circle cx="1021.81" cy="1471.67" r="7.3"/><circle cx="1027.4" cy="1471.6" r="7.3"/><circle cx="1033.06" cy="1470.23" r="7.3"/><circle cx="1039.53" cy="1469.16" r="7.3"/><circle cx="1043.61" cy="1468.46" r="7.3"/><circle cx="1051.72" cy="1467.14" r="7.3"/><circle cx="1054.97" cy="1467.51" r="7.3"/><circle cx="1055.51" cy="1460.17" r="7.3"/><circle cx="1054.25" cy="1469.28" r="7.3"/><circle cx="1053.64" cy="1473.6" r="7.3"/><circle cx="1054.76" cy="1480.14" r="7.3"/><circle cx="1054.34" cy="1485.58" r="7.3"/><circle cx="1053.39" cy="1493.44" r="7.3"/><circle cx="1053.83" cy="1500.48" r="7.3"/><circle cx="1054.45" cy="1505.15" r="7.3"/><circle cx="1053.83" cy="1511.31" r="7.3"/><circle cx="1053.76" cy="1516.21" r="7.3"/><circle cx="1055.58" cy="1524.03" r="7.3"/><circle cx="1054.52" cy="1531.82" r="7.3"/><circle cx="1053.83" cy="1536.85" r="7.3"/><circle cx="1055.72" cy="1543.55" r="7.3"/><circle cx="1054.49" cy="1547.83" r="7.3"/><circle cx="1053.12" cy="1556.67" r="7.3"/><circle cx="1056.23" cy="1556.56" r="7.3"/><circle cx="1048.87" cy="1563.09" r="7.3"/><circle cx="1043.24" cy="1567.44" r="7.3"/><circle cx="1037.52" cy="1569.73" r="7.3"/><circle cx="1031.34" cy="1573.37" r="7.3"/><circle cx="1026.67" cy="1576.94" r="7.3"/><circle cx="1022.28" cy="1579.65" r="7.3"/><circle cx="1017.54" cy="1583.1" r="7.3"/><circle cx="1009.36" cy="1587.54" r="7.3"/><circle cx="1004.62" cy="1590.53" r="7.3"/><circle cx="998.04" cy="1595.02" r="7.3"/><circle cx="992.98" cy="1598.46" r="7.3"/><circle cx="984.33" cy="1605.51" r="7.3"/><circle cx="984.41" cy="1607" r="7.3"/><circle cx="973.39" cy="1608.6" r="7.3"/><circle cx="967.62" cy="1608.41" r="7.3"/><circle cx="959.59" cy="1608.85" r="7.3"/><circle cx="950.91" cy="1606.42" r="7.3"/><circle cx="940.07" cy="1608.16" r="7.3"/><circle cx="935.87" cy="1608.59" r="7.3"/><circle cx="927.88" cy="1613.04" r="7.3"/><circle cx="923.84" cy="1618.91" r="7.3"/><circle cx="920.71" cy="1622.65" r="7.3"/><circle cx="912.96" cy="1627.68" r="7.3"/><circle cx="908.71" cy="1629.24" r="7.3"/><circle cx="900.56" cy="1633.25" r="7.3"/><circle cx="897.61" cy="1632.67" r="7.3"/><circle cx="884.89" cy="1632.3" r="7.3"/><circle cx="877.42" cy="1628.12" r="7.3"/><circle cx="995.74" cy="1466.47" r="7.3"/><circle cx="1000.16" cy="1461.85" r="7.3"/><circle cx="1005.98" cy="1455.87" r="7.3"/><circle cx="1012.26" cy="1450.99" r="7.3"/><circle cx="1014.65" cy="1447.28" r="7.3"/><circle cx="1021.7" cy="1443.95" r="7.3"/><circle cx="1026.02" cy="1436.28" r="7.3"/><circle cx="1031" cy="1435.03" r="7.3"/><circle cx="1037.4" cy="1428.47" r="7.3"/><circle cx="1040.82" cy="1423.92" r="7.3"/><circle cx="1050.85" cy="1416.59" r="7.3"/><circle cx="1051.14" cy="1413.67" r="7.3"/><circle cx="1058.55" cy="1414.97" r="7.3"/><circle cx="1062.98" cy="1414.19" r="7.3"/><circle cx="1073.87" cy="1411.39" r="7.3"/><circle cx="1078.71" cy="1408.19" r="7.3"/><circle cx="1085.66" cy="1406.86" r="7.3"/><circle cx="1089.57" cy="1402.88" r="7.3"/><circle cx="1100.63" cy="1411.46" r="7.3"/><circle cx="1108.39" cy="1412.82" r="7.3"/><circle cx="1112.79" cy="1412.58" r="7.3"/><circle cx="1116.75" cy="1410.04" r="7.3"/><circle cx="1127.51" cy="1411.05" r="7.3"/><circle cx="1124.67" cy="1408.38" r="7.3"/><circle cx="1123.69" cy="1415.38" r="7.3"/><circle cx="1121.14" cy="1420.62" r="7.3"/><circle cx="1119.32" cy="1424.13" r="7.3"/><circle cx="1117.48" cy="1434.67" r="7.3"/><circle cx="1124.19" cy="1443.75" r="7.3"/><circle cx="1125.78" cy="1445.6" r="7.3"/><circle cx="1127" cy="1454.32" r="7.3"/><circle cx="1128.16" cy="1458.16" r="7.3"/><circle cx="1125.9" cy="1465.75" r="7.3"/><circle cx="1123.53" cy="1469.44" r="7.3"/><circle cx="1122.24" cy="1473.83" r="7.3"/><circle cx="1118.53" cy="1479.64" r="7.3"/><circle cx="1113.15" cy="1482.69" r="7.3"/><circle cx="1105.85" cy="1487.63" r="7.3"/><circle cx="1100.56" cy="1490.36" r="7.3"/><circle cx="1095.01" cy="1493.73" r="7.3"/><circle cx="1090.36" cy="1497.82" r="7.3"/><circle cx="1082.14" cy="1500.04" r="7.3"/><circle cx="1074.75" cy="1501.55" r="7.3"/><circle cx="1071.63" cy="1503.95" r="7.3"/><circle cx="1064.64" cy="1505.16" r="7.3"/><circle cx="1058.08" cy="1504.65" r="7.3"/><circle cx="1053.85" cy="1503.75" r="7.3"/><circle cx="1045.51" cy="1505.65" r="7.3"/><circle cx="1041.34" cy="1505.15" r="7.3"/><circle cx="1034.2" cy="1505.49" r="7.3"/><circle cx="1028.17" cy="1504.13" r="7.3"/><circle cx="1022.29" cy="1504.97" r="7.3"/><circle cx="1013.78" cy="1505.12" r="7.3"/><circle cx="1006.02" cy="1505.68" r="7.3"/><circle cx="999.8" cy="1505.79" r="7.3"/><circle cx="994.59" cy="1503.44" r="7.3"/><circle cx="995.79" cy="1509.77" r="7.3"/><circle cx="995.52" cy="1499.75" r="7.3"/><circle cx="994.98" cy="1494.67" r="7.3"/><circle cx="996.26" cy="1487.39" r="7.3"/><circle cx="995.89" cy="1482.44" r="7.3"/><circle cx="994.26" cy="1472.66" r="7.3"/><circle cx="996.59" cy="1466.11" r="7.3"/><circle cx="1162.39" cy="1409.24" r="7.3"/><circle cx="1066.57" cy="1534.89" r="7.3"/><circle cx="1070.31" cy="1513.41" r="7.3"/><circle cx="1120.44" cy="1395.29" r="7.3"/><circle cx="1074.38" cy="1527.6" r="7.3"/><circle cx="1016.36" cy="1592.17" r="7.3"/><circle cx="1189.86" cy="1365.54" r="7.3"/><circle cx="954.85" cy="1509.93" r="7.3"/><circle cx="1127.61" cy="1481.11" r="7.3"/><circle cx="1010.67" cy="1594.8" r="7.3"/><circle cx="891.67" cy="1571.12" r="7.3"/><circle cx="1114.35" cy="1402.57" r="7.3"/><circle cx="946.08" cy="1495.81" r="7.3"/><circle cx="1073.88" cy="1534.39" r="7.3"/><circle cx="1176.22" cy="1350.29" r="7.3"/><circle cx="1144.72" cy="1375.95" r="7.3"/><circle cx="1170.07" cy="1372.13" r="7.3"/><circle cx="1065.77" cy="1528.63" r="7.3"/><circle cx="1119.18" cy="1391.01" r="7.3"/><circle cx="1193.32" cy="1368.37" r="7.3"/><circle cx="1081" cy="1537.25" r="7.3"/><circle cx="1169.71" cy="1366.71" r="7.3"/><circle cx="1111.28" cy="1494.39" r="7.3"/><circle cx="932.41" cy="1633.39" r="7.3"/><circle cx="1017.98" cy="1598.83" r="7.3"/><circle cx="995.38" cy="1615.12" r="7.3"/><circle cx="953.33" cy="1613.7" r="7.3"/><circle cx="922.65" cy="1528.78" r="7.3"/><circle cx="1142.05" cy="1371.03" r="7.3"/><circle cx="954.57" cy="1622.09" r="7.3"/><circle cx="1118.69" cy="1381.23" r="7.3"/><circle cx="1163.97" cy="1384.09" r="7.3"/><circle cx="1137.21" cy="1390.49" r="7.3"/><circle cx="1012.15" cy="1600.09" r="7.3"/><circle cx="1172.2" cy="1365.08" r="7.3"/><circle cx="1163.95" cy="1385.26" r="7.3"/><circle cx="1126.19" cy="1391.77" r="7.3"/><circle cx="1140.2" cy="1417.07" r="7.3"/><circle cx="888.95" cy="1564.03" r="7.3"/><circle cx="1030.43" cy="1584.11" r="7.3"/><circle cx="1113.78" cy="1390.39" r="7.3"/><circle cx="1128.29" cy="1375.45" r="7.3"/><circle cx="941.24" cy="1503" r="7.3"/><circle cx="1094.77" cy="1393.51" r="7.3"/></g>
<path d="M871 1708v-6M871 1262.5v6M935.8 1708v-6M935.8 1262.5v6M1000.6 1708v-6M1000.6 1262.5v6M1065.4 1708v-6M1065.4 1262.5v6M1130.2 1708v-6M1130.2 1262.5v6M1195 1708v-6M1195 1262.5v6M1259.8 1708v-6M1259.8 1262.5v6M1324.6 1708v-6M1324.6 1262.5v6M806.2 1658.5h6M1389.4 1658.5h-6M806.2 1609h6M1389.4 1609h-6M806.2 1559.5h6M1389.4 1559.5h-6M806.2 1510h6M1389.4 1510h-6M806.2 1460.5h6M1389.4 1460.5h-6M806.2 1411h6M1389.4 1411h-6M806.2 1361.5h6M1389.4 1361.5h-6M806.2 1312h6M1389.4 1312h-6" stroke="#858585" stroke-width="1.6" fill="none"/>
<rect x="806.2" y="1262.5" width="583.2" height="445.5" fill="none" stroke="#858585" stroke-width="1.8"/>
<text transform="translate(806.2,1742.2) scale(0.96,1)" text-anchor="middle" font-size="26.52" fill="#262626">0</text>
<text transform="translate(871,1742.2) scale(0.96,1)" text-anchor="middle" font-size="26.52" fill="#262626">20</text>
<text transform="translate(935.8,1742.2) scale(0.96,1)" text-anchor="middle" font-size="26.52" fill="#262626">40</text>
<text transform="translate(1000.6,1742.2) scale(0.96,1)" text-anchor="middle" font-size="26.52" fill="#262626">60</text>
<text transform="translate(1065.4,1742.2) scale(0.96,1)" text-anchor="middle" font-size="26.52" fill="#262626">80</text>
<text transform="translate(1130.2,1742.2) scale(0.96,1)" text-anchor="middle" font-size="26.52" fill="#262626">100</text>
<text transform="translate(1195,1742.2) scale(0.96,1)" text-anchor="middle" font-size="26.52" fill="#262626">120</text>
<text transform="translate(1259.8,1742.2) scale(0.96,1)" text-anchor="middle" font-size="26.52" fill="#262626">140</text>
<text transform="translate(1324.6,1742.2) scale(0.96,1)" text-anchor="middle" font-size="26.52" fill="#262626">160</text>
<text transform="translate(1389.4,1742.2) scale(0.96,1)" text-anchor="middle" font-size="26.52" fill="#262626">180</text>
<text transform="translate(797.2,1717.49) scale(0.96,1)" text-anchor="end" font-size="26.52" fill="#262626">0</text>
<text transform="translate(797.2,1667.99) scale(0.96,1)" text-anchor="end" font-size="26.52" fill="#262626">20</text>
<text transform="translate(797.2,1618.49) scale(0.96,1)" text-anchor="end" font-size="26.52" fill="#262626">40</text>
<text transform="translate(797.2,1568.99) scale(0.96,1)" text-anchor="end" font-size="26.52" fill="#262626">60</text>
<text transform="translate(797.2,1519.49) scale(0.96,1)" text-anchor="end" font-size="26.52" fill="#262626">80</text>
<text transform="translate(797.2,1469.99) scale(0.96,1)" text-anchor="end" font-size="26.52" fill="#262626">100</text>
<text transform="translate(797.2,1420.49) scale(0.96,1)" text-anchor="end" font-size="26.52" fill="#262626">120</text>
<text transform="translate(797.2,1370.99) scale(0.96,1)" text-anchor="end" font-size="26.52" fill="#262626">140</text>
<text transform="translate(797.2,1321.49) scale(0.96,1)" text-anchor="end" font-size="26.52" fill="#262626">160</text>
<text transform="translate(797.2,1271.99) scale(0.96,1)" text-anchor="end" font-size="26.52" fill="#262626">180</text>
<text transform="translate(1097.5,1254.5)" text-anchor="middle" font-size="28" fill="#000">R-Value: 0.839 <tspan font-family="Liberation Serif" font-style="italic" fill="#555">&#946;</tspan>: 1.0108</text>
<text transform="translate(1097.4,1776.7)" text-anchor="middle" font-size="27.72" fill="#262626">SDNN PPG Bicep</text>
<text transform="translate(744,1485.4) rotate(-90)" text-anchor="middle" font-size="27.72" fill="#262626">SDNN ECG Chest</text>
<text transform="translate(1406.9,1273.8) scale(0.8,1)" text-anchor="start" font-size="50" fill="#000">F</text>
<g stroke="#ededed" stroke-width="2.2"><line x1="212.04" y1="1846.1" x2="212.04" y2="2292.3"/><line x1="332.18" y1="1846.1" x2="332.18" y2="2292.3"/><line x1="452.32" y1="1846.1" x2="452.32" y2="2292.3"/><line x1="572.46" y1="1846.1" x2="572.46" y2="2292.3"/><line x1="91.9" y1="2203.06" x2="692.6" y2="2203.06"/><line x1="91.9" y1="2113.82" x2="692.6" y2="2113.82"/><line x1="91.9" y1="2024.58" x2="692.6" y2="2024.58"/><line x1="91.9" y1="1935.34" x2="692.6" y2="1935.34"/></g>
<line x1="91.9" y1="2292.3" x2="692.6" y2="1846.1" stroke="#888888" stroke-width="1.5"/>
<g fill="#000"><path d="M220.58 2191.98L225.45 2189.23L234.72 2184.45L241.42 2175.63L251.98 2167.2L260.3 2158.84L268.23 2154.95L277.19 2150.45L286.32 2143.61L293.21 2136.72L301.36 2126.41L307.28 2124.65L318.62 2115.61L327.04 2107.16L339.78 2098.68L350.86 2089.82L359.65 2081.04L365.13 2075.32L378.11 2070.98L391.84 2059.6L389.77 2059.81L400.07 2053.65L409.23 2048.98L419.98 2038.23L428.52 2033.98L437.78 2024.76L443.37 2016.92L455.96 2012.81L462.61 2006.24L472.99 2002.15L480.17 1997.39L493.31 1986.44L501.6 1978.09L509.9 1974L519.5 1966.69L522.9 1958.88L528.12 1959.51L536.26 1962.08L536.11 1967.96L526.22 1973.41L521.45 1980.33L513.92 1988.02L501.65 1992.01L492.42 1996.62L478.68 2005.88L469.93 2018.94L459.92 2026.88L449.17 2033.33L438.03 2042.25L429.43 2050.85L418.68 2059.44L410.87 2067.49L400.29 2069.55L388.44 2078.93L383.36 2085.79L375.36 2093.83L365.05 2099.98L354.45 2106.34L340.98 2113.17L325.83 2128.3L317.5 2132.4L304.76 2143.04L293.85 2147.44L282.88 2158.36L272.13 2164.81L261.54 2175.43L249.12 2181.58L238.22 2188.12L227.6 2194.49L220.51 2198.29L218.32 2198.04L221.12 2197.03Z"/><circle cx="99.03" cy="2287.1" r="7.3"/><circle cx="135.14" cy="2257.44" r="7.3"/><circle cx="140.52" cy="2259.59" r="7.3"/><circle cx="146.96" cy="2252.06" r="7.3"/><circle cx="154.49" cy="2250.99" r="7.3"/><circle cx="155.56" cy="2242.39" r="7.3"/><circle cx="169.54" cy="2232.72" r="7.3"/><circle cx="184.58" cy="2226.27" r="7.3"/><circle cx="184.58" cy="2218.74" r="7.3"/><circle cx="195.33" cy="2213.37" r="7.3"/><circle cx="203.93" cy="2214.45" r="7.3"/><circle cx="207.15" cy="2203.7" r="7.3"/><circle cx="214.68" cy="2205.85" r="7.3"/><circle cx="599.58" cy="1902.14" r="7.3"/><circle cx="588.83" cy="1922.99" r="7.3"/><circle cx="584.96" cy="1937.61" r="7.3"/><circle cx="587.11" cy="1938.04" r="7.3"/><circle cx="573.14" cy="1941.26" r="7.3"/><circle cx="559.17" cy="1936.96" r="7.3"/><circle cx="546.27" cy="1948.79" r="7.3"/><circle cx="552.72" cy="1958.46" r="7.3"/><circle cx="544.12" cy="1967.06" r="7.3"/><circle cx="535.52" cy="1970.28" r="7.3"/><circle cx="523.7" cy="1954.16" r="7.3"/><circle cx="532.3" cy="1957.39" r="7.3"/><circle cx="523.7" cy="1983.18" r="7.3"/><circle cx="506.5" cy="1993.93" r="7.3"/><circle cx="482.85" cy="1990.71" r="7.3"/><circle cx="489.3" cy="2003.6" r="7.3"/><circle cx="467.81" cy="2000.38" r="7.3"/><circle cx="468.88" cy="2024.02" r="7.3"/><circle cx="454.91" cy="2032.62" r="7.3"/><circle cx="400.09" cy="2076.69" r="7.3"/><circle cx="377.52" cy="2093.89" r="7.3"/><circle cx="219.91" cy="2192.73" r="7.3"/><circle cx="230.29" cy="2189.33" r="7.3"/><circle cx="236.74" cy="2184.26" r="7.3"/><circle cx="244.03" cy="2176.75" r="7.3"/><circle cx="247.83" cy="2171.07" r="7.3"/><circle cx="253.92" cy="2165.73" r="7.3"/><circle cx="260.52" cy="2161.62" r="7.3"/><circle cx="262.41" cy="2160.22" r="7.3"/><circle cx="270.27" cy="2156.5" r="7.3"/><circle cx="280.51" cy="2147.74" r="7.3"/><circle cx="291.27" cy="2141.16" r="7.3"/><circle cx="293.74" cy="2136.5" r="7.3"/><circle cx="299.78" cy="2128.02" r="7.3"/><circle cx="303.3" cy="2126.54" r="7.3"/><circle cx="311.1" cy="2122.64" r="7.3"/><circle cx="315.25" cy="2120" r="7.3"/><circle cx="321.75" cy="2113.73" r="7.3"/><circle cx="323.97" cy="2111.79" r="7.3"/><circle cx="329" cy="2106.74" r="7.3"/><circle cx="333.42" cy="2103.25" r="7.3"/><circle cx="341.91" cy="2096.67" r="7.3"/><circle cx="348.52" cy="2092.89" r="7.3"/><circle cx="353.95" cy="2087.83" r="7.3"/><circle cx="355.22" cy="2085.18" r="7.3"/><circle cx="363.38" cy="2080.08" r="7.3"/><circle cx="365.04" cy="2075.28" r="7.3"/><circle cx="373.32" cy="2072.59" r="7.3"/><circle cx="381.5" cy="2071.43" r="7.3"/><circle cx="386.94" cy="2064.82" r="7.3"/><circle cx="389.1" cy="2051.05" r="7.3"/><circle cx="392.89" cy="2060.19" r="7.3"/><circle cx="396.78" cy="2057.92" r="7.3"/><circle cx="405.47" cy="2053.36" r="7.3"/><circle cx="411.84" cy="2047.19" r="7.3"/><circle cx="418.34" cy="2042.28" r="7.3"/><circle cx="423.06" cy="2039.49" r="7.3"/><circle cx="431.36" cy="2034.37" r="7.3"/><circle cx="434.39" cy="2029.31" r="7.3"/><circle cx="440.4" cy="2020.69" r="7.3"/><circle cx="444.52" cy="2018.86" r="7.3"/><circle cx="453.22" cy="2016" r="7.3"/><circle cx="459.75" cy="2010.73" r="7.3"/><circle cx="466.94" cy="2004.23" r="7.3"/><circle cx="475.46" cy="2002.99" r="7.3"/><circle cx="484.82" cy="1996.06" r="7.3"/><circle cx="488.54" cy="1989.94" r="7.3"/><circle cx="496.99" cy="1984.96" r="7.3"/><circle cx="499.87" cy="1980.54" r="7.3"/><circle cx="506.02" cy="1978.61" r="7.3"/><circle cx="510.73" cy="1973.37" r="7.3"/><circle cx="522.25" cy="1964.85" r="7.3"/><circle cx="520.82" cy="1961.75" r="7.3"/><circle cx="529.12" cy="1961.34" r="7.3"/><circle cx="533.63" cy="1964.71" r="7.3"/><circle cx="534.75" cy="1967.42" r="7.3"/><circle cx="528.34" cy="1969.78" r="7.3"/><circle cx="522.77" cy="1977.15" r="7.3"/><circle cx="519.38" cy="1981.73" r="7.3"/><circle cx="515.09" cy="1983.41" r="7.3"/><circle cx="513.04" cy="1986.6" r="7.3"/><circle cx="504.61" cy="1991.03" r="7.3"/><circle cx="496.56" cy="1992.8" r="7.3"/><circle cx="489.19" cy="1996.33" r="7.3"/><circle cx="482.7" cy="2001.38" r="7.3"/><circle cx="476.51" cy="2006.28" r="7.3"/><circle cx="471.51" cy="2014.2" r="7.3"/><circle cx="469.42" cy="2017.96" r="7.3"/><circle cx="465.05" cy="2022.76" r="7.3"/><circle cx="456.56" cy="2026.67" r="7.3"/><circle cx="453.89" cy="2029.67" r="7.3"/><circle cx="447.76" cy="2033.73" r="7.3"/><circle cx="441.75" cy="2036.64" r="7.3"/><circle cx="435.29" cy="2041.41" r="7.3"/><circle cx="431.39" cy="2049.22" r="7.3"/><circle cx="426.97" cy="2053.07" r="7.3"/><circle cx="421.06" cy="2056.85" r="7.3"/><circle cx="417.42" cy="2059.75" r="7.3"/><circle cx="412.65" cy="2062.4" r="7.3"/><circle cx="410.66" cy="2065.91" r="7.3"/><circle cx="397.26" cy="2071.22" r="7.3"/><circle cx="391.6" cy="2075.89" r="7.3"/><circle cx="385.38" cy="2079.58" r="7.3"/><circle cx="382.57" cy="2086.85" r="7.3"/><circle cx="376.05" cy="2091.1" r="7.3"/><circle cx="372.41" cy="2093.56" r="7.3"/><circle cx="366.8" cy="2097.95" r="7.3"/><circle cx="364.11" cy="2099.38" r="7.3"/><circle cx="358.46" cy="2101.57" r="7.3"/><circle cx="351.76" cy="2107.1" r="7.3"/><circle cx="344.98" cy="2110.57" r="7.3"/><circle cx="337.71" cy="2113.35" r="7.3"/><circle cx="332.39" cy="2118.77" r="7.3"/><circle cx="328.81" cy="2125.78" r="7.3"/><circle cx="324.93" cy="2126.77" r="7.3"/><circle cx="312.19" cy="2134.13" r="7.3"/><circle cx="309.78" cy="2139.28" r="7.3"/><circle cx="303.45" cy="2142.97" r="7.3"/><circle cx="292.41" cy="2147.35" r="7.3"/><circle cx="285.87" cy="2153.49" r="7.3"/><circle cx="279.77" cy="2157.99" r="7.3"/><circle cx="275.17" cy="2161.24" r="7.3"/><circle cx="268.46" cy="2167.92" r="7.3"/><circle cx="264.75" cy="2171.89" r="7.3"/><circle cx="260.1" cy="2175.26" r="7.3"/><circle cx="255.46" cy="2178.11" r="7.3"/><circle cx="247.35" cy="2181.63" r="7.3"/><circle cx="241.18" cy="2186.47" r="7.3"/><circle cx="235.22" cy="2188.32" r="7.3"/><circle cx="232.12" cy="2192.18" r="7.3"/><circle cx="225.32" cy="2193.15" r="7.3"/><circle cx="221.43" cy="2195.83" r="7.3"/><circle cx="220.24" cy="2202.33" r="7.3"/><circle cx="222.41" cy="2196.07" r="7.3"/></g>
<path d="M212.04 2292.3v-6M212.04 1846.1v6M332.18 2292.3v-6M332.18 1846.1v6M452.32 2292.3v-6M452.32 1846.1v6M572.46 2292.3v-6M572.46 1846.1v6M91.9 2203.06h6M692.6 2203.06h-6M91.9 2113.82h6M692.6 2113.82h-6M91.9 2024.58h6M692.6 2024.58h-6M91.9 1935.34h6M692.6 1935.34h-6" stroke="#858585" stroke-width="1.6" fill="none"/>
<rect x="91.9" y="1846.1" width="600.7" height="446.2" fill="none" stroke="#858585" stroke-width="1.8"/>
<text transform="translate(91.9,2326.9) scale(0.96,1)" text-anchor="middle" font-size="26.52" fill="#262626">0</text>
<text transform="translate(212.04,2326.9) scale(0.96,1)" text-anchor="middle" font-size="26.52" fill="#262626">10</text>
<text transform="translate(332.18,2326.9) scale(0.96,1)" text-anchor="middle" font-size="26.52" fill="#262626">20</text>
<text transform="translate(452.32,2326.9) scale(0.96,1)" text-anchor="middle" font-size="26.52" fill="#262626">30</text>
<text transform="translate(572.46,2326.9) scale(0.96,1)" text-anchor="middle" font-size="26.52" fill="#262626">40</text>
<text transform="translate(692.6,2326.9) scale(0.96,1)" text-anchor="middle" font-size="26.52" fill="#262626">50</text>
<text transform="translate(82.9,2301.79) scale(0.96,1)" text-anchor="end" font-size="26.52" fill="#262626">0</text>
<text transform="translate(82.9,2212.55) scale(0.96,1)" text-anchor="end" font-size="26.52" fill="#262626">10</text>
<text transform="translate(82.9,2123.31) scale(0.96,1)" text-anchor="end" font-size="26.52" fill="#262626">20</text>
<text transform="translate(82.9,2034.07) scale(0.96,1)" text-anchor="end" font-size="26.52" fill="#262626">30</text>
<text transform="translate(82.9,1944.83) scale(0.96,1)" text-anchor="end" font-size="26.52" fill="#262626">40</text>
<text transform="translate(82.9,1855.59) scale(0.96,1)" text-anchor="end" font-size="26.52" fill="#262626">50</text>
<text transform="translate(392,1838.4) scale(1.03,1)" text-anchor="middle" font-size="28" fill="#000">R-Value: 0.99678 <tspan font-family="Liberation Serif" font-style="italic" fill="#555">&#946;</tspan>: 0.99678</text>
<text transform="translate(391.9,2361.1)" text-anchor="middle" font-size="28.64" fill="#262626">pNN50 ECG Bicep</text>
<text transform="translate(43.6,2068.3) rotate(-90)" text-anchor="middle" font-size="27.3" fill="#262626">pNN50 ECG Chest</text>
<text transform="translate(16.6,1846) scale(0.9,1)" text-anchor="start" font-size="50" fill="#000">G</text>
<g stroke="#ededed" stroke-width="2.2"><line x1="922.32" y1="1845.4" x2="922.32" y2="2285.8"/><line x1="1040.74" y1="1845.4" x2="1040.74" y2="2285.8"/><line x1="1159.16" y1="1845.4" x2="1159.16" y2="2285.8"/><line x1="1277.58" y1="1845.4" x2="1277.58" y2="2285.8"/><line x1="803.9" y1="2197.72" x2="1396" y2="2197.72"/><line x1="803.9" y1="2109.64" x2="1396" y2="2109.64"/><line x1="803.9" y1="2021.56" x2="1396" y2="2021.56"/><line x1="803.9" y1="1933.48" x2="1396" y2="1933.48"/></g>
<line x1="803.9" y1="2221.5" x2="1396" y2="1863.02" stroke="#666666" stroke-width="1.5"/>
<g fill="#000"><path d="M925.33 2124.4L927.93 2101.67L942.18 2090.78L954.57 2078.4L966.31 2066.6L978.14 2060.75L996.4 2048.57L1016.15 2038.06L1022.03 2010.9L1037.36 2009.47L1050.66 2009.22L1063.65 1999.67L1073.54 1994.24L1084.12 2000.03L1102.1 2005.98L1112.93 2014.07L1118.09 2022.47L1106.51 2036.25L1100.76 2048L1085.7 2060L1075.45 2074.04L1075.49 2092.22L1063.52 2109.96L1057.58 2127.98L1046.03 2139.34L1033.42 2152.01L1027.72 2163.75L1017.66 2168.68L1001.73 2168.88L986.28 2181.17L969.78 2183.83L952.54 2180.91L935.6 2175.41L928.08 2165.22L925.33 2148.23Z"/><path d="M921.71 2103.79L929.61 2095.24L944.78 2083.11L956.92 2070.96L965.96 2064.95L972.13 2058.8L984.63 2049.37L990.15 2040.71L997.71 2039.88L1010.47 2036.67L1021.99 2030.07L1022.4 2016.83L1027.19 2006.8L1035.44 2004.86L1051.57 2004.67L1061.05 1995.83L1067.69 1987.49L1081.34 1983.48L1095.06 1983.44L1105.65 1985.86L1105.66 2079.18L1095.34 2072.45L1084.54 2080.68L1082.08 2092.1L1062.14 2104.42L1060 2121.46L1070.49 2126.1L1076.78 2129.75L1062.85 2134.28L1056.18 2144.42L1040.87 2142.92L1036.14 2153.31L1025.76 2161.17L1013.71 2161.12L1001.32 2169.8L994.17 2180.07L981.08 2185.63L936.49 2185.66L928.43 2177.7L921.19 2166.03L917.2 2161.41L924.81 2150.87L921.32 2135.73L914.06 2129.03L916.34 2123.72L924.76 2117.52Z"/><circle cx="1187.97" cy="1901.36" r="7.3"/><circle cx="1100.39" cy="1921.81" r="7.3"/><circle cx="1188.89" cy="1935.84" r="7.3"/><circle cx="1231.61" cy="1949.58" r="7.3"/><circle cx="1054.31" cy="1941.03" r="7.3"/><circle cx="1075.06" cy="1936.45" r="7.3"/><circle cx="1075.06" cy="1947.13" r="7.3"/><circle cx="1091.85" cy="1944.08" r="7.3"/><circle cx="1095.51" cy="1957.82" r="7.3"/><circle cx="1122.36" cy="1937.98" r="7.3"/><circle cx="1136.1" cy="1934.93" r="7.3"/><circle cx="1129.99" cy="1936.45" r="7.3"/><circle cx="1134.57" cy="1948.66" r="7.3"/><circle cx="1145.25" cy="1956.29" r="7.3"/><circle cx="1152.88" cy="1959.34" r="7.3"/><circle cx="1175.16" cy="1953.24" r="7.3"/><circle cx="1187.06" cy="1963.92" r="7.3"/><circle cx="1119.31" cy="1957.82" r="7.3"/><circle cx="1126.94" cy="1968.5" r="7.3"/><circle cx="1049.13" cy="1976.12" r="7.3"/><circle cx="1056.75" cy="1970.94" r="7.3"/><circle cx="1077.51" cy="1969.11" r="7.3"/><circle cx="1088.8" cy="1963.92" r="7.3"/><circle cx="1085.74" cy="1974.6" r="7.3"/><circle cx="1093.37" cy="1977.65" r="7.3"/><circle cx="1194.08" cy="1977.65" r="7.3"/><circle cx="1184.92" cy="1982.23" r="7.3"/><circle cx="1191.02" cy="2000.54" r="7.3"/><circle cx="1217.88" cy="1996.57" r="7.3"/><circle cx="1181.87" cy="2014.27" r="7.3"/><circle cx="1175.77" cy="2052.41" r="7.3"/><circle cx="984.43" cy="1983.75" r="7.3"/><circle cx="981.99" cy="2003.59" r="7.3"/><circle cx="997.25" cy="2005.72" r="7.3"/><circle cx="1010.98" cy="2001.45" r="7.3"/><circle cx="953" cy="2017.93" r="7.3"/><circle cx="963.68" cy="2020.37" r="7.3"/><circle cx="974.36" cy="2028" r="7.3"/><circle cx="989.62" cy="2018.85" r="7.3"/><circle cx="988.09" cy="2028" r="7.3"/><circle cx="930.11" cy="2041.73" r="7.3"/><circle cx="926.45" cy="2053.94" r="7.3"/><circle cx="947.81" cy="2037.16" r="7.3"/><circle cx="969.78" cy="2044.78" r="7.3"/><circle cx="960.63" cy="2050.89" r="7.3"/><circle cx="951.48" cy="2066.15" r="7.3"/><circle cx="1111.68" cy="1988.33" r="7.3"/><circle cx="1128.47" cy="1985.28" r="7.3"/><circle cx="1134.57" cy="1989.86" r="7.3"/><circle cx="1146.78" cy="1994.43" r="7.3"/><circle cx="1142.2" cy="1997.49" r="7.3"/><circle cx="1136.1" cy="2014.27" r="7.3"/><circle cx="1157.46" cy="2018.85" r="7.3"/><circle cx="1136.1" cy="2028.92" r="7.3"/><circle cx="1152.88" cy="2032.58" r="7.3"/><circle cx="1152.88" cy="2038.68" r="7.3"/><circle cx="1140.67" cy="2047.84" r="7.3"/><circle cx="1155.93" cy="2064.62" r="7.3"/><circle cx="1143.72" cy="2072.25" r="7.3"/><circle cx="1129.99" cy="2069.2" r="7.3"/><circle cx="1125.42" cy="2041.73" r="7.3"/><circle cx="1110.16" cy="2064.62" r="7.3"/><circle cx="1110.16" cy="2075.3" r="7.3"/><circle cx="1093.37" cy="2075.3" r="7.3"/><circle cx="1154.4" cy="2093.61" r="7.3"/><circle cx="1139.15" cy="2095.14" r="7.3"/><circle cx="1128.47" cy="2099.71" r="7.3"/><circle cx="1108.63" cy="2093.61" r="7.3"/><circle cx="1097.95" cy="2105.82" r="7.3"/><circle cx="1116.26" cy="2109.48" r="7.3"/><circle cx="1109.55" cy="2122.6" r="7.3"/><circle cx="1093.37" cy="2122.6" r="7.3"/><circle cx="1091.85" cy="2131.75" r="7.3"/><circle cx="1078.12" cy="2130.23" r="7.3"/><circle cx="1067.44" cy="2143.96" r="7.3"/><circle cx="1055.23" cy="2147.01" r="7.3"/><circle cx="1053.7" cy="2169.9" r="7.3"/><circle cx="1053.7" cy="2179.05" r="7.3"/><circle cx="1041.5" cy="2174.48" r="7.3"/><circle cx="1021.66" cy="2171.43" r="7.3"/><circle cx="1024.71" cy="2199.8" r="7.3"/><circle cx="1015.56" cy="2199.5" r="7.3"/><circle cx="1010.98" cy="2213.54" r="7.3"/><circle cx="996.64" cy="2224.83" r="7.3"/><circle cx="974.36" cy="2223.3" r="7.3"/><circle cx="986.57" cy="2189.73" r="7.3"/><circle cx="1004.88" cy="2183.63" r="7.3"/><circle cx="963.68" cy="2252.29" r="7.3"/><circle cx="943.85" cy="2249.24" r="7.3"/><circle cx="936.22" cy="2244.66" r="7.3"/><circle cx="922.49" cy="2229.4" r="7.3"/><circle cx="934.69" cy="2214.15" r="7.3"/><circle cx="931.64" cy="2223.3" r="7.3"/><circle cx="945.37" cy="2204.99" r="7.3"/><circle cx="939.27" cy="2198.89" r="7.3"/><circle cx="904.18" cy="2227.27" r="7.3"/><circle cx="890.44" cy="2237.03" r="7.3"/><circle cx="879.76" cy="2236.42" r="7.3"/><circle cx="883.73" cy="2253.82" r="7.3"/><circle cx="850.77" cy="2251.68" r="7.3"/><circle cx="811.71" cy="2245.58" r="7.3"/><circle cx="866.03" cy="2280.37" r="7.3"/><circle cx="833.07" cy="2174.48" r="7.3"/><circle cx="864.51" cy="2175.39" r="7.3"/><circle cx="872.74" cy="2170.51" r="7.3"/><circle cx="876.71" cy="2208.04" r="7.3"/><circle cx="882.82" cy="2218.11" r="7.3"/><circle cx="882.82" cy="2183.63" r="7.3"/><circle cx="895.94" cy="2171.43" r="7.3"/><circle cx="896.55" cy="2188.21" r="7.3"/><circle cx="896.55" cy="2200.42" r="7.3"/><circle cx="902.65" cy="2209.57" r="7.3"/><circle cx="907.23" cy="2200.42" r="7.3"/><circle cx="911.81" cy="2185.16" r="7.3"/><circle cx="919.43" cy="2191.26" r="7.3"/><circle cx="924.01" cy="2200.42" r="7.3"/><circle cx="925.54" cy="2218.72" r="7.3"/><circle cx="842.23" cy="2141.52" r="7.3"/><circle cx="866.03" cy="2143.05" r="7.3"/><circle cx="872.74" cy="2139.99" r="7.3"/><circle cx="888.92" cy="2149.15" r="7.3"/><circle cx="908.75" cy="2154.64" r="7.3"/><circle cx="908.75" cy="2163.8" r="7.3"/><circle cx="910.28" cy="2137.86" r="7.3"/><circle cx="902.04" cy="2130.23" r="7.3"/><circle cx="893.5" cy="2124.13" r="7.3"/><circle cx="892.89" cy="2114.97" r="7.3"/><circle cx="878.85" cy="2092.69" r="7.3"/><circle cx="894.11" cy="2099.1" r="7.3"/><circle cx="904.18" cy="2083.84" r="7.3"/><circle cx="914.86" cy="2080.79" r="7.3"/><circle cx="925.54" cy="2082.93" r="7.3"/><circle cx="936.22" cy="2081.4" r="7.3"/><circle cx="916.38" cy="2102.76" r="7.3"/><circle cx="984.28" cy="1984.04" r="7.3"/><circle cx="982.3" cy="2003.56" r="7.3"/><circle cx="997.55" cy="2006.31" r="7.3"/><circle cx="1011.28" cy="2001.27" r="7.3"/><circle cx="952.55" cy="2018.05" r="7.3"/><circle cx="964.75" cy="2019.58" r="7.3"/><circle cx="974.67" cy="2026.45" r="7.3"/><circle cx="990.69" cy="2018.82" r="7.3"/><circle cx="988.4" cy="2027.97" r="7.3"/><circle cx="968.57" cy="2031.02" r="7.3"/><circle cx="947.97" cy="2037.12" r="7.3"/><circle cx="931.19" cy="2041.7" r="7.3"/><circle cx="926.31" cy="2053.91" r="7.3"/><circle cx="960.18" cy="2050.85" r="7.3"/><circle cx="969.33" cy="2044.75" r="7.3"/><circle cx="951.78" cy="2066.87" r="7.3"/><circle cx="903.73" cy="2083.65" r="7.3"/><circle cx="915.17" cy="2079.84" r="7.3"/><circle cx="925.85" cy="2082.89" r="7.3"/><circle cx="935.77" cy="2082.13" r="7.3"/><circle cx="893.81" cy="2098.91" r="7.3"/><circle cx="916.7" cy="2102.72" r="7.3"/><circle cx="893.81" cy="2114.93" r="7.3"/><circle cx="894.58" cy="2125.61" r="7.3"/><circle cx="903.73" cy="2131.71" r="7.3"/><circle cx="909.83" cy="2137.81" r="7.3"/><circle cx="890.76" cy="2149.25" r="7.3"/><circle cx="909.83" cy="2156.12" r="7.3"/><circle cx="897.63" cy="2171.37" r="7.3"/><circle cx="894.58" cy="2183.58" r="7.3"/><circle cx="912.88" cy="2186.63" r="7.3"/><circle cx="1048.66" cy="1976.1" r="7.3"/><circle cx="1057.81" cy="1971.53" r="7.3"/><circle cx="1066.96" cy="1984.49" r="7.3"/><circle cx="1091.37" cy="1977.63" r="7.3"/><circle cx="1092.9" cy="1989.83" r="7.3"/><circle cx="1106.63" cy="1989.83" r="7.3"/><circle cx="1105.1" cy="2005.09" r="7.3"/><circle cx="1094.42" cy="2075.26" r="7.3"/><circle cx="1106.63" cy="2075.26" r="7.3"/><circle cx="1091.37" cy="2101.2" r="7.3"/><circle cx="1097.48" cy="2105.77" r="7.3"/><circle cx="1106.63" cy="2095.1" r="7.3"/><circle cx="1106.63" cy="2122.56" r="7.3"/><circle cx="1092.9" cy="2122.56" r="7.3"/><circle cx="1091.37" cy="2131.71" r="7.3"/><circle cx="1079.17" cy="2131.71" r="7.3"/><circle cx="1068.49" cy="2143.91" r="7.3"/><circle cx="1054.76" cy="2145.44" r="7.3"/><circle cx="1053.23" cy="2169.85" r="7.3"/><circle cx="1054" cy="2179" r="7.3"/><circle cx="1041.03" cy="2174.42" r="7.3"/><circle cx="1021.2" cy="2169.85" r="7.3"/><circle cx="1005.94" cy="2183.58" r="7.3"/><circle cx="1036.45" cy="2156.12" r="7.3"/><circle cx="925.28" cy="2124.62" r="7.3"/><circle cx="927.87" cy="2117.33" r="7.3"/><circle cx="926.86" cy="2111.95" r="7.3"/><circle cx="929.53" cy="2105.74" r="7.3"/><circle cx="928.32" cy="2104.18" r="7.3"/><circle cx="933.88" cy="2097.47" r="7.3"/><circle cx="939.14" cy="2094.42" r="7.3"/><circle cx="945.68" cy="2090.89" r="7.3"/><circle cx="948.59" cy="2083.94" r="7.3"/><circle cx="958.59" cy="2075.53" r="7.3"/><circle cx="961.83" cy="2071.99" r="7.3"/><circle cx="968.06" cy="2068.51" r="7.3"/><circle cx="972.63" cy="2063.82" r="7.3"/><circle cx="981.14" cy="2060.23" r="7.3"/><circle cx="989.07" cy="2055.97" r="7.3"/><circle cx="991.95" cy="2051.82" r="7.3"/><circle cx="1000.35" cy="2049.43" r="7.3"/><circle cx="1003.17" cy="2047.19" r="7.3"/><circle cx="1012.23" cy="2042.38" r="7.3"/><circle cx="1018.9" cy="2036.11" r="7.3"/><circle cx="1019.17" cy="2026.75" r="7.3"/><circle cx="1020.69" cy="2020.27" r="7.3"/><circle cx="1022" cy="2015.95" r="7.3"/><circle cx="1020.68" cy="2013.06" r="7.3"/><circle cx="1028.14" cy="2013.12" r="7.3"/><circle cx="1035.47" cy="2012.32" r="7.3"/><circle cx="1040.56" cy="2011.44" r="7.3"/><circle cx="1044.14" cy="2009.64" r="7.3"/><circle cx="1054.78" cy="2007.89" r="7.3"/><circle cx="1060.27" cy="2002.12" r="7.3"/><circle cx="1065.04" cy="2001.6" r="7.3"/><circle cx="1072.34" cy="1997.21" r="7.3"/><circle cx="1071.57" cy="1994.67" r="7.3"/><circle cx="1080.33" cy="1999.86" r="7.3"/><circle cx="1087.92" cy="2001.52" r="7.3"/><circle cx="1091.5" cy="2004.58" r="7.3"/><circle cx="1097.58" cy="2006.57" r="7.3"/><circle cx="1103.5" cy="2007.09" r="7.3"/><circle cx="1106.39" cy="2012.42" r="7.3"/><circle cx="1112.38" cy="2013.7" r="7.3"/><circle cx="1114.47" cy="2021.28" r="7.3"/><circle cx="1116.06" cy="2022.65" r="7.3"/><circle cx="1112.15" cy="2026.08" r="7.3"/><circle cx="1109.56" cy="2031.26" r="7.3"/><circle cx="1103.78" cy="2038.3" r="7.3"/><circle cx="1103.15" cy="2042.98" r="7.3"/><circle cx="1099.8" cy="2046.44" r="7.3"/><circle cx="1092.57" cy="2051.29" r="7.3"/><circle cx="1088.57" cy="2057.18" r="7.3"/><circle cx="1081.18" cy="2061.76" r="7.3"/><circle cx="1080.02" cy="2068.05" r="7.3"/><circle cx="1074.8" cy="2076.67" r="7.3"/><circle cx="1075.49" cy="2082.05" r="7.3"/><circle cx="1073.1" cy="2087.96" r="7.3"/><circle cx="1074.69" cy="2090.57" r="7.3"/><circle cx="1071.26" cy="2097.93" r="7.3"/><circle cx="1065.43" cy="2106.11" r="7.3"/><circle cx="1062.14" cy="2110.9" r="7.3"/><circle cx="1059.29" cy="2118.81" r="7.3"/><circle cx="1057.4" cy="2125.63" r="7.3"/><circle cx="1055.09" cy="2127.83" r="7.3"/><circle cx="1049.22" cy="2133.7" r="7.3"/><circle cx="1044.3" cy="2141.03" r="7.3"/><circle cx="1038.11" cy="2144.53" r="7.3"/><circle cx="1029.5" cy="2154.34" r="7.3"/><circle cx="1027.5" cy="2160.72" r="7.3"/><circle cx="1027.3" cy="2161.33" r="7.3"/><circle cx="1021.93" cy="2165.42" r="7.3"/><circle cx="1017.97" cy="2167.82" r="7.3"/><circle cx="1009.57" cy="2167.69" r="7.3"/><circle cx="997.69" cy="2170.32" r="7.3"/><circle cx="993.6" cy="2172.7" r="7.3"/><circle cx="986.92" cy="2177.86" r="7.3"/><circle cx="987.02" cy="2179.45" r="7.3"/><circle cx="977.93" cy="2182.01" r="7.3"/><circle cx="974.1" cy="2181.01" r="7.3"/><circle cx="969.31" cy="2182.87" r="7.3"/><circle cx="961.53" cy="2181.63" r="7.3"/><circle cx="957.61" cy="2181.48" r="7.3"/><circle cx="952.12" cy="2178.99" r="7.3"/><circle cx="946.01" cy="2176.73" r="7.3"/><circle cx="940.53" cy="2176.51" r="7.3"/><circle cx="935.78" cy="2173.52" r="7.3"/><circle cx="932.61" cy="2167.07" r="7.3"/><circle cx="928.33" cy="2165.08" r="7.3"/><circle cx="928.32" cy="2159.73" r="7.3"/><circle cx="927.12" cy="2152.67" r="7.3"/><circle cx="924.98" cy="2148.52" r="7.3"/><circle cx="927.19" cy="2141.04" r="7.3"/><circle cx="927.64" cy="2135.23" r="7.3"/><circle cx="926.15" cy="2128.11" r="7.3"/><circle cx="923.16" cy="2103.29" r="7.3"/><circle cx="928.62" cy="2099.67" r="7.3"/><circle cx="931.36" cy="2094.59" r="7.3"/><circle cx="935.55" cy="2092.19" r="7.3"/><circle cx="940.54" cy="2087.44" r="7.3"/><circle cx="948.64" cy="2082.64" r="7.3"/><circle cx="954.35" cy="2075.18" r="7.3"/><circle cx="961.51" cy="2068.58" r="7.3"/><circle cx="968.88" cy="2064.35" r="7.3"/><circle cx="974.16" cy="2057.64" r="7.3"/><circle cx="980.79" cy="2054.86" r="7.3"/><circle cx="987.48" cy="2048.32" r="7.3"/><circle cx="989.02" cy="2043.79" r="7.3"/><circle cx="1000.5" cy="2039.78" r="7.3"/><circle cx="1008.03" cy="2039.32" r="7.3"/><circle cx="1011.45" cy="2036.62" r="7.3"/><circle cx="1025.08" cy="2026.17" r="7.3"/><circle cx="1022.3" cy="2021.35" r="7.3"/><circle cx="1022.43" cy="2016.48" r="7.3"/><circle cx="1026.94" cy="2010.67" r="7.3"/><circle cx="1028.29" cy="2007.01" r="7.3"/><circle cx="1035.03" cy="2006.87" r="7.3"/><circle cx="1044.57" cy="2005.93" r="7.3"/><circle cx="1056.63" cy="2002.58" r="7.3"/><circle cx="1066.87" cy="1992.05" r="7.3"/><circle cx="1070.2" cy="1987.52" r="7.3"/><circle cx="1075.07" cy="1985.31" r="7.3"/><circle cx="1084.63" cy="1983.33" r="7.3"/><circle cx="1090.93" cy="1985.82" r="7.3"/><circle cx="1095.25" cy="1984.47" r="7.3"/><circle cx="1102.03" cy="1989.18" r="7.3"/><circle cx="1103.52" cy="1987.84" r="7.3"/><circle cx="1103.84" cy="1991.71" r="7.3"/><circle cx="1104.8" cy="1999.57" r="7.3"/><circle cx="1103.82" cy="2007.26" r="7.3"/><circle cx="1103.81" cy="2013.92" r="7.3"/><circle cx="1104.72" cy="2020.23" r="7.3"/><circle cx="1103.68" cy="2025.19" r="7.3"/><circle cx="1105.57" cy="2031.11" r="7.3"/><circle cx="1103.43" cy="2037.92" r="7.3"/><circle cx="1105.6" cy="2045.3" r="7.3"/><circle cx="1105.3" cy="2049.75" r="7.3"/><circle cx="1103.17" cy="2055.91" r="7.3"/><circle cx="1105.06" cy="2062.52" r="7.3"/><circle cx="1104.68" cy="2068.26" r="7.3"/><circle cx="1104.97" cy="2076.07" r="7.3"/><circle cx="1110.19" cy="2075.1" r="7.3"/><circle cx="1103.29" cy="2071.57" r="7.3"/><circle cx="1091.29" cy="2072.55" r="7.3"/><circle cx="1082.1" cy="2081.76" r="7.3"/><circle cx="1080.45" cy="2088.44" r="7.3"/><circle cx="1081.33" cy="2092.54" r="7.3"/><circle cx="1074.96" cy="2093.99" r="7.3"/><circle cx="1067.05" cy="2099.93" r="7.3"/><circle cx="1059.29" cy="2107.84" r="7.3"/><circle cx="1060.29" cy="2114.65" r="7.3"/><circle cx="1065.65" cy="2125.28" r="7.3"/><circle cx="1072.63" cy="2130.8" r="7.3"/><circle cx="1075.53" cy="2129.07" r="7.3"/><circle cx="1067.68" cy="2130.67" r="7.3"/><circle cx="1058.12" cy="2136.7" r="7.3"/><circle cx="1055.69" cy="2141.58" r="7.3"/><circle cx="1054.78" cy="2143.38" r="7.3"/><circle cx="1048.32" cy="2141.2" r="7.3"/><circle cx="1036.16" cy="2148.46" r="7.3"/><circle cx="1032.25" cy="2152.98" r="7.3"/><circle cx="1029.91" cy="2158.02" r="7.3"/><circle cx="1025.05" cy="2160.82" r="7.3"/><circle cx="1017.65" cy="2159.87" r="7.3"/><circle cx="1009.66" cy="2161.28" r="7.3"/><circle cx="1004.39" cy="2167.47" r="7.3"/><circle cx="999.68" cy="2171.71" r="7.3"/><circle cx="995.97" cy="2177.15" r="7.3"/><circle cx="990.82" cy="2180.6" r="7.3"/><circle cx="984.81" cy="2181.41" r="7.3"/><circle cx="978.3" cy="2184.99" r="7.3"/><circle cx="973.03" cy="2184.03" r="7.3"/><circle cx="967.72" cy="2185.57" r="7.3"/><circle cx="958.56" cy="2185.5" r="7.3"/><circle cx="952.6" cy="2183.81" r="7.3"/><circle cx="946.52" cy="2184.96" r="7.3"/><circle cx="938.94" cy="2183.67" r="7.3"/><circle cx="939.94" cy="2184.82" r="7.3"/><circle cx="931.61" cy="2179.81" r="7.3"/><circle cx="928.35" cy="2177.63" r="7.3"/><circle cx="924.92" cy="2168.01" r="7.3"/><circle cx="920.4" cy="2164.39" r="7.3"/><circle cx="917.3" cy="2163.5" r="7.3"/><circle cx="920.77" cy="2156.82" r="7.3"/><circle cx="926.46" cy="2147.37" r="7.3"/><circle cx="923.97" cy="2142.41" r="7.3"/><circle cx="918.28" cy="2132.28" r="7.3"/><circle cx="913.91" cy="2131.32" r="7.3"/><circle cx="917.07" cy="2126.52" r="7.3"/><circle cx="925.65" cy="2111.59" r="7.3"/><circle cx="923.01" cy="2104.81" r="7.3"/><circle cx="989.47" cy="2020.39" r="7.3"/><circle cx="914.43" cy="2100.91" r="7.3"/><circle cx="1141.04" cy="2031.27" r="7.3"/><circle cx="1148.63" cy="2030.65" r="7.3"/><circle cx="1075.93" cy="2107.77" r="7.3"/><circle cx="1138.32" cy="2006.45" r="7.3"/><circle cx="1124.8" cy="1994.94" r="7.3"/><circle cx="924.31" cy="2092.86" r="7.3"/><circle cx="1035.15" cy="2165.32" r="7.3"/><circle cx="1051.69" cy="2162.91" r="7.3"/><circle cx="1047.19" cy="1986.8" r="7.3"/><circle cx="1058.41" cy="2151.53" r="7.3"/><circle cx="912.52" cy="2153.18" r="7.3"/><circle cx="915.74" cy="2098.4" r="7.3"/><circle cx="1112.76" cy="1992.06" r="7.3"/><circle cx="1132.55" cy="2061.66" r="7.3"/><circle cx="1114.35" cy="2058.11" r="7.3"/><circle cx="898.97" cy="2110.02" r="7.3"/><circle cx="1040.23" cy="2158.29" r="7.3"/><circle cx="913.73" cy="2151.13" r="7.3"/><circle cx="1133.29" cy="2009.06" r="7.3"/><circle cx="989.81" cy="2020" r="7.3"/><circle cx="1066.22" cy="1973.66" r="7.3"/><circle cx="929.06" cy="2087.2" r="7.3"/></g>
<path d="M922.32 2285.8v-6M922.32 1845.4v6M1040.74 2285.8v-6M1040.74 1845.4v6M1159.16 2285.8v-6M1159.16 1845.4v6M1277.58 2285.8v-6M1277.58 1845.4v6M803.9 2197.72h6M1396 2197.72h-6M803.9 2109.64h6M1396 2109.64h-6M803.9 2021.56h6M1396 2021.56h-6M803.9 1933.48h6M1396 1933.48h-6" stroke="#858585" stroke-width="1.6" fill="none"/>
<rect x="803.9" y="1845.4" width="592.1" height="440.4" fill="none" stroke="#858585" stroke-width="1.8"/>
<text transform="translate(803.9,2319.7) scale(0.96,1)" text-anchor="middle" font-size="26.52" fill="#262626">0</text>
<text transform="translate(922.32,2319.7) scale(0.96,1)" text-anchor="middle" font-size="26.52" fill="#262626">10</text>
<text transform="translate(1040.74,2319.7) scale(0.96,1)" text-anchor="middle" font-size="26.52" fill="#262626">20</text>
<text transform="translate(1159.16,2319.7) scale(0.96,1)" text-anchor="middle" font-size="26.52" fill="#262626">30</text>
<text transform="translate(1277.58,2319.7) scale(0.96,1)" text-anchor="middle" font-size="26.52" fill="#262626">40</text>
<text transform="translate(1396,2319.7) scale(0.96,1)" text-anchor="middle" font-size="26.52" fill="#262626">50</text>
<text transform="translate(794.9,2295.29) scale(0.96,1)" text-anchor="end" font-size="26.52" fill="#262626">0</text>
<text transform="translate(794.9,2207.21) scale(0.96,1)" text-anchor="end" font-size="26.52" fill="#262626">10</text>
<text transform="translate(794.9,2119.13) scale(0.96,1)" text-anchor="end" font-size="26.52" fill="#262626">20</text>
<text transform="translate(794.9,2031.05) scale(0.96,1)" text-anchor="end" font-size="26.52" fill="#262626">30</text>
<text transform="translate(794.9,1942.97) scale(0.96,1)" text-anchor="end" font-size="26.52" fill="#262626">40</text>
<text transform="translate(794.9,1854.89) scale(0.96,1)" text-anchor="end" font-size="26.52" fill="#262626">50</text>
<text transform="translate(1099.2,1837.6) scale(1.01,1)" text-anchor="middle" font-size="28" fill="#000">R-Value: 0.66737 <tspan font-family="Liberation Serif" font-style="italic" fill="#555">&#946;</tspan>: 0.81387</text>
<text transform="translate(1100.6,2354.1)" text-anchor="middle" font-size="28.14" fill="#262626">pNN50 PPG Bicep</text>
<text transform="translate(754.3,2064.6) rotate(-90)" text-anchor="middle" font-size="27.16" fill="#262626">pNN50 ECG Chest</text>
<text transform="translate(1410.8,1850.6) scale(0.92,1)" text-anchor="start" font-size="50" fill="#000">H</text></svg></body></html>
